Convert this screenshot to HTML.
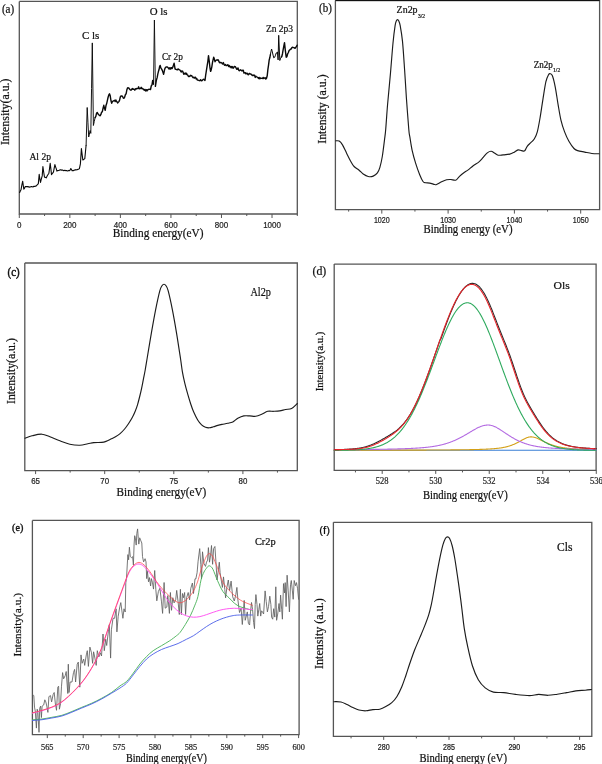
<!DOCTYPE html>
<html><head><meta charset="utf-8"><style>
html,body{margin:0;padding:0;background:#fff;}
body{width:602px;height:764px;overflow:hidden;}
svg{display:block;will-change:transform;filter:blur(0.35px);}
</style></head><body>
<svg width="602" height="764" viewBox="0 0 602 764">
<rect width="602" height="764" fill="#fff"/>
<path d="M19.3 1.4 L19.3 214.0 L297.3 214.0 L297.3 1.4 L19.3 1.4" fill="none" stroke="#555555" stroke-width="1.3"/>
<path d="M19.65 192.50 L20.32 190.99 L21.00 189.80 L21.85 185.19 L22.70 181.20 L23.80 189.20 L24.40 188.44 L25.00 187.02 L25.60 186.50 L26.27 186.65 L26.93 186.61 L27.60 186.45 L28.27 186.97 L28.93 186.67 L29.60 187.20 L30.28 187.05 L30.95 186.64 L31.62 186.57 L32.30 186.78 L32.98 187.06 L33.65 186.34 L34.33 186.34 L35.00 186.50 L35.66 186.09 L36.32 185.86 L36.98 185.01 L37.64 184.33 L38.30 183.90 L39.20 174.30 L39.85 178.83 L40.50 182.50 L41.35 178.79 L42.20 175.90 L42.90 166.60 L43.70 172.22 L44.50 177.20 L45.35 177.36 L46.20 177.90 L46.88 176.40 L47.55 175.21 L48.23 174.20 L48.90 173.20 L49.55 168.53 L50.20 163.30 L50.85 168.66 L51.50 174.60 L52.17 173.77 L52.83 172.93 L53.50 171.90 L54.20 168.14 L54.90 164.60 L55.57 166.84 L56.23 168.61 L56.90 171.20 L57.56 170.54 L58.22 170.42 L58.88 170.58 L59.54 170.09 L60.20 169.90 L60.86 169.82 L61.53 170.15 L62.19 170.12 L62.85 170.07 L63.51 170.60 L64.17 170.60 L64.84 170.28 L65.50 170.60 L66.17 170.67 L66.83 170.62 L67.50 170.94 L68.17 170.81 L68.83 170.41 L69.50 170.60 L70.15 170.03 L70.80 168.60 L71.45 169.36 L72.10 170.80 L72.77 170.58 L73.43 170.73 L74.10 170.04 L74.77 170.19 L75.43 169.64 L76.10 169.90 L76.76 169.79 L77.42 169.62 L78.08 169.19 L78.74 169.20 L79.40 168.60 L80.40 163.90 L81.40 148.60 L82.10 154.08 L82.80 159.90 L83.47 159.64 L84.13 159.12 L84.80 158.60 L85.45 152.02 L86.10 145.30" fill="none" stroke="#0a0a0a" stroke-width="1.1" stroke-linejoin="round" stroke-linecap="round"/>
<path d="M86.10 145.30 L87.20 107.50 L87.95 122.21 L88.70 137.00 L89.40 134.06 L90.10 130.50 L90.80 133.40 L91.55 88.55 L92.30 42.90 L93.40 125.50 L94.25 121.53 L95.10 117.60" fill="none" stroke="#0a0a0a" stroke-width="0.95" stroke-linejoin="round" stroke-linecap="round"/>
<path d="M95.10 117.60 L95.83 116.33 L96.57 113.06 L97.30 112.50 L98.03 113.99 L98.77 114.82 L99.50 115.40 L100.20 115.78 L100.90 114.44 L101.60 112.14 L102.30 111.80 L103.05 108.25 L103.80 105.30 L104.50 108.29 L105.20 110.40 L105.93 105.79 L106.67 103.57 L107.40 100.30 L108.10 97.27 L108.80 94.97 L109.50 93.80 L110.23 95.79 L110.97 100.76 L111.70 103.20 L112.42 101.51 L113.15 101.09 L113.88 100.74 L114.60 100.30 L115.20 101.62 L115.80 99.91 L116.40 101.22 L117.00 101.83 L117.60 103.05 L118.20 102.40 L118.90 101.63 L119.60 100.15 L120.30 97.02 L121.00 96.00 L121.72 96.06 L122.44 96.19 L123.16 97.84 L123.88 98.31 L124.60 97.40 L125.35 94.69 L126.10 93.80 L126.80 90.06 L127.50 88.00 L128.22 87.74 L128.94 88.19 L129.66 89.28 L130.38 89.99 L131.10 90.20 L131.71 89.38 L132.33 88.51 L132.94 89.39 L133.56 89.06 L134.17 89.37 L134.79 90.18 L135.40 88.80 L136.04 89.13 L136.69 88.51 L137.33 88.61 L137.98 88.59 L138.62 86.81 L139.27 88.84 L139.91 88.36 L140.56 88.44 L141.20 87.30 L141.92 88.80 L142.65 88.47 L143.38 89.21 L144.10 90.20 L144.82 89.37 L145.55 90.95 L146.28 89.66 L147.00 91.00 L147.70 89.58 L148.40 89.64 L149.10 89.22 L149.80 89.38 L150.50 89.50 L151.25 85.99 L152.00 84.80 L152.70 80.40 L153.50 84.10" fill="none" stroke="#0a0a0a" stroke-width="1.4" stroke-linejoin="round" stroke-linecap="round"/>
<path d="M153.50 84.10 L154.40 20.00 L155.40 86.30" fill="none" stroke="#0a0a0a" stroke-width="0.9" stroke-linejoin="round" stroke-linecap="round"/>
<path d="M155.40 86.30 L156.30 80.55 L157.20 77.40 L157.80 74.09 L158.40 71.56 L159.00 69.85 L159.60 66.57 L160.20 65.40 L160.93 68.11 L161.67 69.16 L162.40 70.60 L163.60 74.40 L164.70 69.10 L165.43 67.45 L166.17 66.99 L166.90 66.90 L167.63 67.24 L168.37 68.01 L169.10 69.10 L169.87 67.65 L170.63 69.07 L171.40 67.70 L172.15 68.58 L172.90 66.90 L174.10 63.20 L175.10 69.10 L175.87 69.28 L176.63 69.59 L177.40 69.90 L178.00 68.96 L178.60 69.15 L179.20 69.91 L179.80 69.85 L180.40 70.60 L181.12 72.03 L181.85 70.87 L182.58 71.09 L183.30 72.90 L183.94 74.39 L184.59 73.60 L185.23 72.92 L185.87 74.27 L186.51 73.24 L187.16 74.86 L187.80 75.10 L188.44 76.56 L189.09 76.47 L189.73 76.25 L190.37 75.34 L191.01 75.82 L191.66 75.52 L192.30 76.60 L192.94 77.59 L193.59 77.26 L194.23 78.18 L194.87 77.30 L195.51 77.31 L196.16 79.12 L196.80 78.60 L197.44 80.16 L198.09 80.12 L198.73 80.30 L199.37 80.63 L200.01 80.72 L200.66 79.69 L201.30 80.70 L201.92 80.70 L202.53 80.22 L203.15 79.33 L203.77 79.27 L204.38 79.88 L205.00 80.40 L205.75 74.52 L206.50 69.90 L207.17 65.67 L207.83 61.62 L208.50 55.70 L209.20 60.80 L209.90 67.30 L210.60 71.40 L211.23 69.67 L211.87 66.58 L212.50 62.40 L213.70 57.20 L214.35 59.10 L215.00 61.70 L215.68 60.60 L216.35 60.24 L217.02 59.79 L217.70 60.20 L218.30 59.87 L218.90 61.40 L219.50 62.56 L220.10 62.85 L220.70 62.40 L221.36 62.65 L222.01 63.40 L222.67 64.08 L223.33 62.52 L223.99 64.32 L224.64 65.27 L225.30 64.50 L225.96 65.48 L226.62 65.65 L227.29 65.19 L227.95 64.66 L228.61 66.50 L229.28 65.56 L229.94 67.03 L230.60 66.50 L231.20 67.87 L231.80 66.52 L232.40 66.68 L233.00 68.24 L233.60 67.81 L234.20 66.51 L234.80 66.54 L235.40 66.75 L236.00 67.80 L236.66 69.19 L237.32 69.27 L237.99 67.89 L238.65 70.00 L239.31 70.74 L239.98 70.23 L240.64 69.77 L241.30 70.50 L241.96 70.96 L242.62 70.22 L243.29 70.25 L243.95 73.07 L244.61 72.58 L245.28 72.59 L245.94 73.99 L246.60 73.20 L247.26 73.27 L247.93 74.64 L248.59 74.76 L249.25 73.40 L249.91 73.74 L250.57 74.09 L251.24 74.19 L251.90 75.10 L252.56 75.57 L253.22 74.97 L253.89 75.64 L254.55 75.14 L255.21 77.42 L255.88 76.22 L256.54 76.74 L257.20 77.10 L257.86 77.49 L258.52 78.50 L259.19 77.42 L259.85 78.89 L260.51 77.98 L261.18 78.23 L261.84 78.39 L262.50 78.50 L263.16 77.37 L263.82 78.58 L264.48 78.04 L265.14 77.69 L265.80 79.10 L266.50 78.23 L267.20 75.80 L267.87 69.65 L268.53 65.13 L269.20 59.90 L269.80 57.76 L270.40 54.60" fill="none" stroke="#0a0a0a" stroke-width="1.4" stroke-linejoin="round" stroke-linecap="round"/>
<path d="M270.40 54.60 L271.00 51.27 L271.60 49.00 L272.33 52.01 L273.07 55.08 L273.80 57.90 L274.65 57.29 L275.50 55.20 L276.13 53.08 L276.77 53.16 L277.40 51.90 L278.10 59.90 L278.70 35.30 L279.80 60.50 L280.47 58.51" fill="none" stroke="#0a0a0a" stroke-width="1.0" stroke-linejoin="round" stroke-linecap="round"/>
<path d="M281.13 57.25 L281.80 56.50 L282.48 53.73 L283.15 49.57 L283.82 46.24 L284.50 42.60 L285.35 50.58 L286.20 57.20 L286.93 56.62 L287.65 53.75 L288.38 52.54 L289.10 50.60 L289.76 49.93 L290.42 49.27 L291.08 49.06 L291.74 47.76 L292.40 47.20 L293.07 47.52 L293.73 47.61 L294.40 47.90 L295.07 48.37 L295.75 47.07 L296.43 46.85 L297.10 45.20" fill="none" stroke="#0a0a0a" stroke-width="1.4" stroke-linejoin="round" stroke-linecap="round"/>
<path d="M19.30 214.0 L19.30 218.0 M69.85 214.0 L69.85 218.0 M120.39 214.0 L120.39 218.0 M170.94 214.0 L170.94 218.0 M221.48 214.0 L221.48 218.0 M272.03 214.0 L272.03 218.0" stroke="#555555" stroke-width="1" fill="none"/>
<path d="M44.57 214.0 L44.57 216.0 M95.12 214.0 L95.12 216.0 M145.66 214.0 L145.66 216.0 M196.21 214.0 L196.21 216.0 M246.75 214.0 L246.75 216.0 M297.30 214.0 L297.30 216.0" stroke="#555555" stroke-width="1" fill="none"/>
<text x="19.30" y="227.7" font-family='"Liberation Sans", sans-serif' font-size="9.2" text-anchor="middle" font-weight="normal" fill="#222" stroke="#222" stroke-width="0.22" textLength="4.45" lengthAdjust="spacingAndGlyphs">0</text>
<text x="69.85" y="227.7" font-family='"Liberation Sans", sans-serif' font-size="9.2" text-anchor="middle" font-weight="normal" fill="#222" stroke="#222" stroke-width="0.22" textLength="13.35" lengthAdjust="spacingAndGlyphs">200</text>
<text x="120.39" y="227.7" font-family='"Liberation Sans", sans-serif' font-size="9.2" text-anchor="middle" font-weight="normal" fill="#222" stroke="#222" stroke-width="0.22" textLength="13.35" lengthAdjust="spacingAndGlyphs">400</text>
<text x="170.94" y="227.7" font-family='"Liberation Sans", sans-serif' font-size="9.2" text-anchor="middle" font-weight="normal" fill="#222" stroke="#222" stroke-width="0.22" textLength="13.35" lengthAdjust="spacingAndGlyphs">600</text>
<text x="221.48" y="227.7" font-family='"Liberation Sans", sans-serif' font-size="9.2" text-anchor="middle" font-weight="normal" fill="#222" stroke="#222" stroke-width="0.22" textLength="13.35" lengthAdjust="spacingAndGlyphs">800</text>
<text x="272.03" y="227.7" font-family='"Liberation Sans", sans-serif' font-size="9.2" text-anchor="middle" font-weight="normal" fill="#222" stroke="#222" stroke-width="0.22" textLength="17.8" lengthAdjust="spacingAndGlyphs">1000</text>
<text x="112.8" y="237.4" font-family='"Liberation Serif", serif' font-size="12.2" text-anchor="start" font-weight="normal" fill="#111" stroke="#111" stroke-width="0.22" textLength="90.7" lengthAdjust="spacingAndGlyphs">Binding energy(eV)</text>
<text transform="translate(8.6 111.8) rotate(-90)" x="0" y="0" font-family='"Liberation Serif", serif' font-size="11.9" text-anchor="middle" fill="#111" stroke="#111" stroke-width="0.22" textLength="66.6" lengthAdjust="spacingAndGlyphs">Intensity(a.u.)</text>
<text x="1.9" y="12.7" font-family='"Liberation Serif", serif' font-size="11.8" text-anchor="start" font-weight="normal" fill="#111" stroke="#111" stroke-width="0.22" textLength="12.3" lengthAdjust="spacingAndGlyphs">(a)</text>
<text x="81.9" y="38.6" font-family='"Liberation Serif", serif' font-size="10.7" text-anchor="start" font-weight="normal" fill="#111" stroke="#111" stroke-width="0.22" textLength="17.4" lengthAdjust="spacingAndGlyphs">C ls</text>
<text x="149.8" y="15.4" font-family='"Liberation Serif", serif' font-size="10.8" text-anchor="start" font-weight="normal" fill="#111" stroke="#111" stroke-width="0.22" textLength="17.8" lengthAdjust="spacingAndGlyphs">O ls</text>
<text x="161.9" y="59.6" font-family='"Liberation Serif", serif' font-size="10.9" text-anchor="start" font-weight="normal" fill="#111" stroke="#111" stroke-width="0.22" textLength="21" lengthAdjust="spacingAndGlyphs">Cr 2p</text>
<text x="265.9" y="31.7" font-family='"Liberation Serif", serif' font-size="10.2" text-anchor="start" font-weight="normal" fill="#111" stroke="#111" stroke-width="0.22" textLength="27.2" lengthAdjust="spacingAndGlyphs">Zn 2p3</text>
<text x="29.5" y="159.7" font-family='"Liberation Serif", serif' font-size="10.3" text-anchor="start" font-weight="normal" fill="#111" stroke="#111" stroke-width="0.22" textLength="21.4" lengthAdjust="spacingAndGlyphs">Al 2p</text>
<path d="M335.4 0.5 L335.4 209.6 L599.6 209.6 L599.6 0.5 L335.4 0.5" fill="none" stroke="#555555" stroke-width="1.3"/>
<path d="M335.4 0.5 L599.6 0.5" stroke="#111" stroke-width="1.0"/>
<path d="M335.80 140.80 C336.37 140.85 338.08 140.42 339.20 141.10 C340.32 141.78 341.27 142.88 342.50 144.90 C343.73 146.92 345.22 150.43 346.60 153.20 C347.98 155.97 349.55 159.28 350.80 161.50 C352.05 163.72 352.72 165.05 354.10 166.50 C355.48 167.95 357.58 168.95 359.10 170.20 C360.62 171.45 361.68 172.95 363.20 174.00 C364.72 175.05 366.53 176.15 368.20 176.50 C369.87 176.85 371.67 176.72 373.20 176.10 C374.73 175.48 376.28 174.27 377.40 172.80 C378.52 171.33 379.08 170.02 379.90 167.30 C380.72 164.58 381.53 161.07 382.30 156.50 C383.07 151.93 383.93 144.40 384.50 139.90 C385.07 135.40 385.18 135.43 385.70 129.50 C386.22 123.57 386.80 113.73 387.60 104.30 C388.40 94.87 389.60 83.12 390.50 72.90 C391.40 62.68 392.23 50.87 393.00 43.00 C393.77 35.13 394.55 29.37 395.10 25.70 C395.65 22.03 395.90 22.02 396.30 21.00 C396.70 19.98 397.08 19.60 397.50 19.60 C397.92 19.60 398.35 19.98 398.80 21.00 C399.25 22.02 399.58 22.30 400.20 25.70 C400.82 29.10 401.77 34.07 402.50 41.40 C403.23 48.73 403.95 60.27 404.60 69.70 C405.25 79.13 405.70 88.03 406.40 98.00 C407.10 107.97 408.23 123.07 408.80 129.50 C409.37 135.93 409.23 133.07 409.80 136.60 C410.37 140.13 411.23 146.27 412.20 150.70 C413.17 155.13 414.35 159.18 415.60 163.20 C416.85 167.22 418.47 171.75 419.70 174.80 C420.93 177.85 422.03 180.17 423.00 181.50 C423.97 182.83 424.38 182.53 425.50 182.80 C426.62 183.07 428.17 182.82 429.70 183.10 C431.23 183.38 433.55 184.27 434.70 184.50 C435.85 184.73 435.45 184.95 436.60 184.50 C437.75 184.05 439.93 182.58 441.60 181.80 C443.27 181.02 445.07 180.18 446.60 179.80 C448.13 179.42 449.28 179.43 450.80 179.50 C452.32 179.57 454.32 180.65 455.70 180.20 C457.08 179.75 457.85 177.97 459.10 176.80 C460.35 175.63 461.68 174.35 463.20 173.20 C464.72 172.05 466.53 171.15 468.20 169.90 C469.87 168.65 471.40 167.03 473.20 165.70 C475.00 164.37 477.33 163.28 479.00 161.90 C480.67 160.52 481.82 158.90 483.20 157.40 C484.58 155.90 485.98 153.92 487.30 152.90 C488.62 151.88 489.85 151.23 491.10 151.30 C492.35 151.37 493.63 152.65 494.80 153.30 C495.97 153.95 496.72 154.93 498.10 155.20 C499.48 155.47 501.17 155.08 503.10 154.90 C505.03 154.72 507.90 154.52 509.70 154.10 C511.50 153.68 512.52 153.10 513.90 152.40 C515.28 151.70 516.73 150.20 518.00 149.90 C519.27 149.60 520.38 150.45 521.50 150.60 C522.62 150.75 523.75 151.52 524.70 150.80 C525.65 150.08 526.18 147.65 527.20 146.30 C528.22 144.95 529.60 143.95 530.80 142.70 C532.00 141.45 533.32 140.60 534.40 138.80 C535.48 137.00 536.35 135.43 537.30 131.90 C538.25 128.37 539.15 123.12 540.10 117.60 C541.05 112.08 542.03 104.80 543.00 98.80 C543.97 92.80 544.98 85.60 545.90 81.60 C546.82 77.60 547.78 76.12 548.50 74.80 C549.22 73.48 549.55 73.53 550.20 73.70 C550.85 73.87 551.55 73.53 552.40 75.80 C553.25 78.07 554.35 82.50 555.30 87.30 C556.25 92.10 557.15 99.08 558.10 104.60 C559.05 110.12 559.92 115.85 561.00 120.40 C562.08 124.95 563.28 128.42 564.60 131.90 C565.92 135.38 567.33 138.53 568.90 141.30 C570.47 144.07 572.55 146.95 574.00 148.50 C575.45 150.05 575.82 150.00 577.60 150.60 C579.38 151.20 582.32 151.62 584.70 152.10 C587.08 152.58 589.50 153.22 591.90 153.50 C594.30 153.78 597.90 153.75 599.10 153.80" fill="none" stroke="#1c1c1c" stroke-width="1.15" stroke-linejoin="round" stroke-linecap="round"/>
<path d="M381.80 209.6 L381.80 213.6 M448.10 209.6 L448.10 213.6 M514.40 209.6 L514.40 213.6 M580.70 209.6 L580.70 213.6" stroke="#555555" stroke-width="1" fill="none"/>
<path d="M348.65 209.6 L348.65 211.6 M414.95 209.6 L414.95 211.6 M481.25 209.6 L481.25 211.6 M547.55 209.6 L547.55 211.6" stroke="#555555" stroke-width="1" fill="none"/>
<text x="381.80" y="223.1" font-family='"Liberation Sans", sans-serif' font-size="8.16" text-anchor="middle" font-weight="normal" fill="#222" stroke="#222" stroke-width="0.22" textLength="15.8" lengthAdjust="spacingAndGlyphs">1020</text>
<text x="448.10" y="223.1" font-family='"Liberation Sans", sans-serif' font-size="8.16" text-anchor="middle" font-weight="normal" fill="#222" stroke="#222" stroke-width="0.22" textLength="15.8" lengthAdjust="spacingAndGlyphs">1030</text>
<text x="514.40" y="223.1" font-family='"Liberation Sans", sans-serif' font-size="8.16" text-anchor="middle" font-weight="normal" fill="#222" stroke="#222" stroke-width="0.22" textLength="15.8" lengthAdjust="spacingAndGlyphs">1040</text>
<text x="580.70" y="223.1" font-family='"Liberation Sans", sans-serif' font-size="8.16" text-anchor="middle" font-weight="normal" fill="#222" stroke="#222" stroke-width="0.22" textLength="15.8" lengthAdjust="spacingAndGlyphs">1050</text>
<text x="423.5" y="232.8" font-family='"Liberation Serif", serif' font-size="11.7" text-anchor="start" font-weight="normal" fill="#111" stroke="#111" stroke-width="0.22" textLength="89" lengthAdjust="spacingAndGlyphs">Binding energy (eV)</text>
<text transform="translate(326.2 109.05) rotate(-90)" x="0" y="0" font-family='"Liberation Serif", serif' font-size="11.9" text-anchor="middle" fill="#111" stroke="#111" stroke-width="0.22" textLength="69.5" lengthAdjust="spacingAndGlyphs">Intensity (a.u.)</text>
<text x="319" y="12.0" font-family='"Liberation Serif", serif' font-size="11.8" text-anchor="start" font-weight="normal" fill="#111" stroke="#111" stroke-width="0.22" textLength="12.9" lengthAdjust="spacingAndGlyphs">(b)</text>
<text x="396.6" y="12.7" font-family='"Liberation Serif", serif' font-size="9.8" text-anchor="start" font-weight="normal" fill="#111" stroke="#111" stroke-width="0.22" textLength="21" lengthAdjust="spacingAndGlyphs">Zn2p</text>
<text x="417.9" y="18.0" font-family='"Liberation Serif", serif' font-size="6" text-anchor="start" font-weight="normal" fill="#111" stroke="#111" stroke-width="0.22" textLength="7" lengthAdjust="spacingAndGlyphs">3/2</text>
<text x="533.8" y="68.4" font-family='"Liberation Serif", serif' font-size="9.3" text-anchor="start" font-weight="normal" fill="#111" stroke="#111" stroke-width="0.22" textLength="19.1" lengthAdjust="spacingAndGlyphs">Zn2p</text>
<text x="553.1" y="72.0" font-family='"Liberation Serif", serif' font-size="6" text-anchor="start" font-weight="normal" fill="#111" stroke="#111" stroke-width="0.22" textLength="7.1" lengthAdjust="spacingAndGlyphs">1/2</text>
<path d="M24.8 263.0 L24.8 470.6 L297.3 470.6 L297.3 263.0 L24.8 263.0" fill="none" stroke="#555555" stroke-width="1.3"/>
<path d="M25.00 438.20 C26.17 437.80 29.18 436.47 32.00 435.80 C34.82 435.13 38.92 434.03 41.90 434.20 C44.88 434.37 46.90 435.70 49.90 436.80 C52.90 437.90 56.58 439.57 59.90 440.80 C63.22 442.03 66.48 443.47 69.80 444.20 C73.12 444.93 76.80 445.27 79.80 445.20 C82.80 445.13 85.47 444.23 87.80 443.80 C90.13 443.37 91.48 442.83 93.80 442.60 C96.12 442.37 99.67 442.60 101.70 442.40 C103.73 442.20 104.47 441.95 106.00 441.40 C107.53 440.85 109.32 439.87 110.90 439.10 C112.48 438.33 113.97 437.72 115.50 436.80 C117.03 435.88 118.58 434.90 120.10 433.60 C121.62 432.30 123.23 430.60 124.60 429.00 C125.97 427.40 127.07 425.82 128.30 424.00 C129.53 422.18 130.85 420.23 132.00 418.10 C133.15 415.97 134.28 413.42 135.20 411.20 C136.12 408.98 136.75 407.25 137.50 404.80 C138.25 402.35 139.02 399.25 139.70 396.50 C140.38 393.75 140.98 391.18 141.60 388.30 C142.22 385.42 142.80 382.25 143.40 379.20 C144.00 376.15 144.57 373.53 145.20 370.00 C145.83 366.47 146.17 364.20 147.20 358.00 C148.23 351.80 150.00 340.83 151.40 332.80 C152.80 324.77 154.20 316.78 155.60 309.80 C157.00 302.82 158.73 294.92 159.80 290.90 C160.87 286.88 161.30 286.82 162.00 285.70 C162.70 284.58 163.33 284.20 164.00 284.20 C164.67 284.20 165.30 284.58 166.00 285.70 C166.70 286.82 167.13 286.88 168.20 290.90 C169.27 294.92 171.02 302.82 172.40 309.80 C173.78 316.78 175.15 324.68 176.50 332.80 C177.85 340.92 179.52 352.00 180.50 358.50 C181.48 365.00 181.67 367.62 182.40 371.80 C183.13 375.98 184.00 379.83 184.90 383.60 C185.80 387.37 186.82 390.97 187.80 394.40 C188.78 397.83 189.82 401.25 190.80 404.20 C191.78 407.15 192.55 409.47 193.70 412.10 C194.85 414.73 196.38 417.87 197.70 420.00 C199.02 422.13 200.30 423.68 201.60 424.90 C202.90 426.12 204.20 426.82 205.50 427.30 C206.80 427.78 208.08 427.88 209.40 427.80 C210.72 427.72 212.00 427.20 213.40 426.80 C214.80 426.40 216.37 425.80 217.80 425.40 C219.23 425.00 220.33 424.75 222.00 424.40 C223.67 424.05 226.00 423.72 227.80 423.30 C229.60 422.88 231.13 422.73 232.80 421.90 C234.47 421.07 235.97 419.30 237.80 418.30 C239.63 417.30 241.80 416.30 243.80 415.90 C245.80 415.50 247.82 415.83 249.80 415.90 C251.78 415.97 253.72 416.57 255.70 416.30 C257.68 416.03 259.70 415.13 261.70 414.30 C263.70 413.47 265.70 411.80 267.70 411.30 C269.70 410.80 271.70 411.37 273.70 411.30 C275.70 411.23 277.72 411.20 279.70 410.90 C281.68 410.60 283.62 409.90 285.60 409.50 C287.58 409.10 289.65 409.50 291.60 408.50 C293.55 407.50 296.35 404.33 297.30 403.50" fill="none" stroke="#1c1c1c" stroke-width="1.15" stroke-linejoin="round" stroke-linecap="round"/>
<path d="M35.60 470.6 L35.60 474.1 M104.70 470.6 L104.70 474.1 M173.80 470.6 L173.80 474.1 M242.90 470.6 L242.90 474.1" stroke="#555555" stroke-width="1" fill="none"/>
<path d="M70.15 470.6 L70.15 472.6 M139.25 470.6 L139.25 472.6 M208.35 470.6 L208.35 472.6 M277.45 470.6 L277.45 472.6" stroke="#555555" stroke-width="1" fill="none"/>
<text x="35.60" y="484.3" font-family='"Liberation Sans", sans-serif' font-size="9.08" text-anchor="middle" font-weight="normal" fill="#222" stroke="#222" stroke-width="0.22" textLength="8.79" lengthAdjust="spacingAndGlyphs">65</text>
<text x="104.70" y="484.3" font-family='"Liberation Sans", sans-serif' font-size="9.08" text-anchor="middle" font-weight="normal" fill="#222" stroke="#222" stroke-width="0.22" textLength="8.79" lengthAdjust="spacingAndGlyphs">70</text>
<text x="173.80" y="484.3" font-family='"Liberation Sans", sans-serif' font-size="9.08" text-anchor="middle" font-weight="normal" fill="#222" stroke="#222" stroke-width="0.22" textLength="8.79" lengthAdjust="spacingAndGlyphs">75</text>
<text x="242.90" y="484.3" font-family='"Liberation Sans", sans-serif' font-size="9.08" text-anchor="middle" font-weight="normal" fill="#222" stroke="#222" stroke-width="0.22" textLength="8.79" lengthAdjust="spacingAndGlyphs">80</text>
<text x="116.6" y="496.4" font-family='"Liberation Serif", serif' font-size="12.1" text-anchor="start" font-weight="normal" fill="#111" stroke="#111" stroke-width="0.22" textLength="89.7" lengthAdjust="spacingAndGlyphs">Binding energy(eV)</text>
<text transform="translate(15.0 371.1) rotate(-90)" x="0" y="0" font-family='"Liberation Serif", serif' font-size="11.6" text-anchor="middle" fill="#111" stroke="#111" stroke-width="0.22" textLength="65.8" lengthAdjust="spacingAndGlyphs">Intensity(a.u.)</text>
<text x="7.6" y="275.9" font-family='"Liberation Serif", serif' font-size="11.8" text-anchor="start" font-weight="normal" fill="#111" stroke="#111" stroke-width="0.45" textLength="12.1" lengthAdjust="spacingAndGlyphs">(c)</text>
<text x="250.4" y="295.6" font-family='"Liberation Serif", serif' font-size="12.2" text-anchor="start" font-weight="normal" fill="#111" stroke="#111" stroke-width="0.22" textLength="20.5" lengthAdjust="spacingAndGlyphs">Al2p</text>
<path d="M334.2 264.1 L334.2 470.4 L596.1 470.4 L596.1 264.1 L334.2 264.1" fill="none" stroke="#555555" stroke-width="1.3"/>
<path d="M334.2 450.3 L596.1 450.3" fill="none" stroke="#3a7fd5" stroke-width="1.1" stroke-linejoin="round" stroke-linecap="round"/>
<path d="M334.20 450.24 L334.70 450.24 L335.20 450.23 L335.70 450.23 L336.20 450.23 L336.70 450.23 L337.20 450.23 L337.70 450.23 L338.20 450.23 L338.70 450.23 L339.20 450.23 L339.70 450.23 L340.20 450.23 L340.70 450.23 L341.20 450.23 L341.70 450.23 L342.20 450.23 L342.70 450.23 L343.20 450.23 L343.70 450.23 L344.20 450.23 L344.70 450.23 L345.20 450.23 L345.70 450.23 L346.20 450.23 L346.70 450.23 L347.20 450.23 L347.70 450.23 L348.20 450.23 L348.70 450.22 L349.20 450.22 L349.70 450.22 L350.20 450.22 L350.70 450.22 L351.20 450.22 L351.70 450.22 L352.20 450.22 L352.70 450.22 L353.20 450.22 L353.70 450.22 L354.20 450.22 L354.70 450.22 L355.20 450.22 L355.70 450.22 L356.20 450.22 L356.70 450.22 L357.20 450.22 L357.70 450.22 L358.20 450.22 L358.70 450.22 L359.20 450.22 L359.70 450.21 L360.20 450.21 L360.70 450.21 L361.20 450.21 L361.70 450.21 L362.20 450.21 L362.70 450.21 L363.20 450.21 L363.70 450.21 L364.20 450.21 L364.70 450.21 L365.20 450.21 L365.70 450.21 L366.20 450.21 L366.70 450.21 L367.20 450.21 L367.70 450.21 L368.20 450.21 L368.70 450.21 L369.20 450.20 L369.70 450.20 L370.20 450.20 L370.70 450.20 L371.20 450.20 L371.70 450.20 L372.20 450.20 L372.70 450.20 L373.20 450.20 L373.70 450.20 L374.20 450.20 L374.70 450.20 L375.20 450.20 L375.70 450.20 L376.20 450.20 L376.70 450.20 L377.20 450.19 L377.70 450.19 L378.20 450.19 L378.70 450.19 L379.20 450.19 L379.70 450.19 L380.20 450.19 L380.70 450.19 L381.20 450.19 L381.70 450.19 L382.20 450.19 L382.70 450.19 L383.20 450.19 L383.70 450.19 L384.20 450.18 L384.70 450.18 L385.20 450.18 L385.70 450.18 L386.20 450.18 L386.70 450.18 L387.20 450.18 L387.70 450.18 L388.20 450.18 L388.70 450.18 L389.20 450.18 L389.70 450.18 L390.20 450.17 L390.70 450.17 L391.20 450.17 L391.70 450.17 L392.20 450.17 L392.70 450.17 L393.20 450.17 L393.70 450.17 L394.20 450.17 L394.70 450.17 L395.20 450.17 L395.70 450.16 L396.20 450.16 L396.70 450.16 L397.20 450.16 L397.70 450.16 L398.20 450.16 L398.70 450.16 L399.20 450.16 L399.70 450.16 L400.20 450.15 L400.70 450.15 L401.20 450.15 L401.70 450.15 L402.20 450.15 L402.70 450.15 L403.20 450.15 L403.70 450.15 L404.20 450.15 L404.70 450.14 L405.20 450.14 L405.70 450.14 L406.20 450.14 L406.70 450.14 L407.20 450.14 L407.70 450.14 L408.20 450.14 L408.70 450.13 L409.20 450.13 L409.70 450.13 L410.20 450.13 L410.70 450.13 L411.20 450.13 L411.70 450.13 L412.20 450.12 L412.70 450.12 L413.20 450.12 L413.70 450.12 L414.20 450.12 L414.70 450.12 L415.20 450.12 L415.70 450.11 L416.20 450.11 L416.70 450.11 L417.20 450.11 L417.70 450.11 L418.20 450.11 L418.70 450.10 L419.20 450.10 L419.70 450.10 L420.20 450.10 L420.70 450.10 L421.20 450.10 L421.70 450.09 L422.20 450.09 L422.70 450.09 L423.20 450.09 L423.70 450.09 L424.20 450.08 L424.70 450.08 L425.20 450.08 L425.70 450.08 L426.20 450.08 L426.70 450.07 L427.20 450.07 L427.70 450.07 L428.20 450.07 L428.70 450.06 L429.20 450.06 L429.70 450.06 L430.20 450.06 L430.70 450.06 L431.20 450.05 L431.70 450.05 L432.20 450.05 L432.70 450.05 L433.20 450.04 L433.70 450.04 L434.20 450.04 L434.70 450.04 L435.20 450.03 L435.70 450.03 L436.20 450.03 L436.70 450.02 L437.20 450.02 L437.70 450.02 L438.20 450.02 L438.70 450.01 L439.20 450.01 L439.70 450.01 L440.20 450.00 L440.70 450.00 L441.20 450.00 L441.70 449.99 L442.20 449.99 L442.70 449.99 L443.20 449.98 L443.70 449.98 L444.20 449.98 L444.70 449.97 L445.20 449.97 L445.70 449.96 L446.20 449.96 L446.70 449.96 L447.20 449.95 L447.70 449.95 L448.20 449.94 L448.70 449.94 L449.20 449.94 L449.70 449.93 L450.20 449.93 L450.70 449.92 L451.20 449.92 L451.70 449.91 L452.20 449.91 L452.70 449.90 L453.20 449.90 L453.70 449.89 L454.20 449.89 L454.70 449.88 L455.20 449.88 L455.70 449.87 L456.20 449.87 L456.70 449.86 L457.20 449.86 L457.70 449.85 L458.20 449.85 L458.70 449.84 L459.20 449.83 L459.70 449.83 L460.20 449.82 L460.70 449.81 L461.20 449.81 L461.70 449.80 L462.20 449.79 L462.70 449.79 L463.20 449.78 L463.70 449.77 L464.20 449.76 L464.70 449.76 L465.20 449.75 L465.70 449.74 L466.20 449.73 L466.70 449.72 L467.20 449.72 L467.70 449.71 L468.20 449.70 L468.70 449.69 L469.20 449.68 L469.70 449.67 L470.20 449.66 L470.70 449.65 L471.20 449.64 L471.70 449.63 L472.20 449.62 L472.70 449.61 L473.20 449.60 L473.70 449.58 L474.20 449.57 L474.70 449.56 L475.20 449.55 L475.70 449.54 L476.20 449.52 L476.70 449.51 L477.20 449.50 L477.70 449.48 L478.20 449.47 L478.70 449.45 L479.20 449.44 L479.70 449.42 L480.20 449.41 L480.70 449.39 L481.20 449.37 L481.70 449.35 L482.20 449.34 L482.70 449.32 L483.20 449.30 L483.70 449.28 L484.20 449.26 L484.70 449.24 L485.20 449.22 L485.70 449.19 L486.20 449.17 L486.70 449.15 L487.20 449.12 L487.70 449.10 L488.20 449.07 L488.70 449.04 L489.20 449.01 L489.70 448.98 L490.20 448.95 L490.70 448.92 L491.20 448.89 L491.70 448.85 L492.20 448.82 L492.70 448.78 L493.20 448.74 L493.70 448.70 L494.20 448.66 L494.70 448.62 L495.20 448.57 L495.70 448.52 L496.20 448.48 L496.70 448.42 L497.20 448.37 L497.70 448.31 L498.20 448.25 L498.70 448.19 L499.20 448.13 L499.70 448.06 L500.20 447.99 L500.70 447.92 L501.20 447.84 L501.70 447.76 L502.20 447.68 L502.70 447.59 L503.20 447.50 L503.70 447.40 L504.20 447.30 L504.70 447.20 L505.20 447.09 L505.70 446.98 L506.20 446.86 L506.70 446.73 L507.20 446.60 L507.70 446.47 L508.20 446.33 L508.70 446.19 L509.20 446.03 L509.70 445.88 L510.20 445.71 L510.70 445.54 L511.20 445.37 L511.70 445.19 L512.20 445.00 L512.70 444.80 L513.20 444.60 L513.70 444.39 L514.20 444.18 L514.70 443.96 L515.20 443.73 L515.70 443.50 L516.20 443.26 L516.70 443.01 L517.20 442.76 L517.70 442.50 L518.20 442.24 L518.70 441.97 L519.20 441.70 L519.70 441.43 L520.20 441.15 L520.70 440.87 L521.20 440.59 L521.70 440.31 L522.20 440.03 L522.70 439.75 L523.20 439.48 L523.70 439.21 L524.20 438.94 L524.70 438.69 L525.20 438.45 L525.70 438.21 L526.20 437.99 L526.70 437.79 L527.20 437.60 L527.70 437.43 L528.20 437.28 L528.70 437.15 L529.20 437.05 L529.70 436.97 L530.20 436.91 L530.70 436.89 L531.20 436.88 L531.70 436.90 L532.20 436.94 L532.70 437.00 L533.20 437.07 L533.70 437.17 L534.20 437.29 L534.70 437.42 L535.20 437.57 L535.70 437.73 L536.20 437.91 L536.70 438.10 L537.20 438.30 L537.70 438.52 L538.20 438.74 L538.70 438.97 L539.20 439.20 L539.70 439.44 L540.20 439.69 L540.70 439.93 L541.20 440.18 L541.70 440.43 L542.20 440.68 L542.70 440.93 L543.20 441.18 L543.70 441.43 L544.20 441.68 L544.70 441.92 L545.20 442.16 L545.70 442.40 L546.20 442.63 L546.70 442.86 L547.20 443.08 L547.70 443.30 L548.20 443.51 L548.70 443.72 L549.20 443.92 L549.70 444.12 L550.20 444.32 L550.70 444.50 L551.20 444.69 L551.70 444.87 L552.20 445.04 L552.70 445.21 L553.20 445.37 L553.70 445.53 L554.20 445.68 L554.70 445.83 L555.20 445.97 L555.70 446.11 L556.20 446.24 L556.70 446.37 L557.20 446.49 L557.70 446.61 L558.20 446.72 L558.70 446.84 L559.20 446.94 L559.70 447.05 L560.20 447.14 L560.70 447.24 L561.20 447.33 L561.70 447.42 L562.20 447.51 L562.70 447.59 L563.20 447.67 L563.70 447.74 L564.20 447.81 L564.70 447.88 L565.20 447.95 L565.70 448.02 L566.20 448.08 L566.70 448.14 L567.20 448.19 L567.70 448.25 L568.20 448.30 L568.70 448.35 L569.20 448.40 L569.70 448.45 L570.20 448.49 L570.70 448.54 L571.20 448.58 L571.70 448.62 L572.20 448.66 L572.70 448.70 L573.20 448.73 L573.70 448.77 L574.20 448.80 L574.70 448.83 L575.20 448.87 L575.70 448.90 L576.20 448.93 L576.70 448.95 L577.20 448.98 L577.70 449.01 L578.20 449.03 L578.70 449.06 L579.20 449.08 L579.70 449.11 L580.20 449.13 L580.70 449.15 L581.20 449.17 L581.70 449.19 L582.20 449.21 L582.70 449.23 L583.20 449.25 L583.70 449.27 L584.20 449.29 L584.70 449.30 L585.20 449.32 L585.70 449.34 L586.20 449.35 L586.70 449.37 L587.20 449.38 L587.70 449.40 L588.20 449.41 L588.70 449.43 L589.20 449.44 L589.70 449.46 L590.20 449.47 L590.70 449.48 L591.20 449.49 L591.70 449.51 L592.20 449.52 L592.70 449.53 L593.20 449.54 L593.70 449.55 L594.20 449.56 L594.70 449.58 L595.20 449.59 L595.70 449.60" fill="none" stroke="#d4a017" stroke-width="1.1" stroke-linejoin="round" stroke-linecap="round"/>
<path d="M334.20 449.80 L334.70 449.79 L335.20 449.79 L335.70 449.79 L336.20 449.79 L336.70 449.78 L337.20 449.78 L337.70 449.78 L338.20 449.77 L338.70 449.77 L339.20 449.76 L339.70 449.76 L340.20 449.76 L340.70 449.75 L341.20 449.75 L341.70 449.75 L342.20 449.74 L342.70 449.74 L343.20 449.74 L343.70 449.73 L344.20 449.73 L344.70 449.72 L345.20 449.72 L345.70 449.72 L346.20 449.71 L346.70 449.71 L347.20 449.70 L347.70 449.70 L348.20 449.70 L348.70 449.69 L349.20 449.69 L349.70 449.68 L350.20 449.68 L350.70 449.67 L351.20 449.67 L351.70 449.67 L352.20 449.66 L352.70 449.66 L353.20 449.65 L353.70 449.65 L354.20 449.64 L354.70 449.64 L355.20 449.63 L355.70 449.63 L356.20 449.62 L356.70 449.62 L357.20 449.61 L357.70 449.61 L358.20 449.60 L358.70 449.60 L359.20 449.59 L359.70 449.59 L360.20 449.58 L360.70 449.58 L361.20 449.57 L361.70 449.57 L362.20 449.56 L362.70 449.56 L363.20 449.55 L363.70 449.54 L364.20 449.54 L364.70 449.53 L365.20 449.53 L365.70 449.52 L366.20 449.51 L366.70 449.51 L367.20 449.50 L367.70 449.50 L368.20 449.49 L368.70 449.48 L369.20 449.48 L369.70 449.47 L370.20 449.46 L370.70 449.46 L371.20 449.45 L371.70 449.44 L372.20 449.43 L372.70 449.43 L373.20 449.42 L373.70 449.41 L374.20 449.41 L374.70 449.40 L375.20 449.39 L375.70 449.38 L376.20 449.38 L376.70 449.37 L377.20 449.36 L377.70 449.35 L378.20 449.34 L378.70 449.33 L379.20 449.33 L379.70 449.32 L380.20 449.31 L380.70 449.30 L381.20 449.29 L381.70 449.28 L382.20 449.27 L382.70 449.26 L383.20 449.26 L383.70 449.25 L384.20 449.24 L384.70 449.23 L385.20 449.22 L385.70 449.21 L386.20 449.20 L386.70 449.19 L387.20 449.18 L387.70 449.17 L388.20 449.16 L388.70 449.14 L389.20 449.13 L389.70 449.12 L390.20 449.11 L390.70 449.10 L391.20 449.09 L391.70 449.08 L392.20 449.06 L392.70 449.05 L393.20 449.04 L393.70 449.03 L394.20 449.01 L394.70 449.00 L395.20 448.99 L395.70 448.97 L396.20 448.96 L396.70 448.95 L397.20 448.93 L397.70 448.92 L398.20 448.90 L398.70 448.89 L399.20 448.87 L399.70 448.86 L400.20 448.84 L400.70 448.83 L401.20 448.81 L401.70 448.80 L402.20 448.78 L402.70 448.76 L403.20 448.74 L403.70 448.73 L404.20 448.71 L404.70 448.69 L405.20 448.67 L405.70 448.65 L406.20 448.63 L406.70 448.61 L407.20 448.59 L407.70 448.57 L408.20 448.55 L408.70 448.53 L409.20 448.51 L409.70 448.49 L410.20 448.46 L410.70 448.44 L411.20 448.42 L411.70 448.39 L412.20 448.37 L412.70 448.34 L413.20 448.32 L413.70 448.29 L414.20 448.26 L414.70 448.23 L415.20 448.20 L415.70 448.17 L416.20 448.14 L416.70 448.11 L417.20 448.08 L417.70 448.05 L418.20 448.02 L418.70 447.98 L419.20 447.95 L419.70 447.91 L420.20 447.87 L420.70 447.84 L421.20 447.80 L421.70 447.76 L422.20 447.72 L422.70 447.67 L423.20 447.63 L423.70 447.59 L424.20 447.54 L424.70 447.49 L425.20 447.44 L425.70 447.39 L426.20 447.34 L426.70 447.29 L427.20 447.24 L427.70 447.18 L428.20 447.12 L428.70 447.06 L429.20 447.00 L429.70 446.94 L430.20 446.88 L430.70 446.81 L431.20 446.74 L431.70 446.67 L432.20 446.60 L432.70 446.53 L433.20 446.45 L433.70 446.38 L434.20 446.30 L434.70 446.21 L435.20 446.13 L435.70 446.04 L436.20 445.95 L436.70 445.86 L437.20 445.76 L437.70 445.67 L438.20 445.57 L438.70 445.46 L439.20 445.36 L439.70 445.25 L440.20 445.14 L440.70 445.03 L441.20 444.91 L441.70 444.79 L442.20 444.66 L442.70 444.54 L443.20 444.41 L443.70 444.28 L444.20 444.14 L444.70 444.00 L445.20 443.86 L445.70 443.71 L446.20 443.56 L446.70 443.40 L447.20 443.25 L447.70 443.09 L448.20 442.92 L448.70 442.75 L449.20 442.58 L449.70 442.40 L450.20 442.22 L450.70 442.04 L451.20 441.85 L451.70 441.66 L452.20 441.46 L452.70 441.26 L453.20 441.06 L453.70 440.85 L454.20 440.64 L454.70 440.42 L455.20 440.20 L455.70 439.98 L456.20 439.75 L456.70 439.52 L457.20 439.28 L457.70 439.04 L458.20 438.80 L458.70 438.55 L459.20 438.30 L459.70 438.05 L460.20 437.79 L460.70 437.53 L461.20 437.26 L461.70 437.00 L462.20 436.73 L462.70 436.45 L463.20 436.17 L463.70 435.89 L464.20 435.61 L464.70 435.32 L465.20 435.04 L465.70 434.75 L466.20 434.45 L466.70 434.16 L467.20 433.86 L467.70 433.57 L468.20 433.27 L468.70 432.97 L469.20 432.67 L469.70 432.37 L470.20 432.07 L470.70 431.77 L471.20 431.47 L471.70 431.17 L472.20 430.88 L472.70 430.58 L473.20 430.29 L473.70 430.00 L474.20 429.72 L474.70 429.44 L475.20 429.16 L475.70 428.88 L476.20 428.62 L476.70 428.35 L477.20 428.10 L477.70 427.85 L478.20 427.60 L478.70 427.37 L479.20 427.14 L479.70 426.93 L480.20 426.72 L480.70 426.52 L481.20 426.33 L481.70 426.16 L482.20 425.99 L482.70 425.84 L483.20 425.70 L483.70 425.57 L484.20 425.45 L484.70 425.35 L485.20 425.26 L485.70 425.19 L486.20 425.13 L486.70 425.09 L487.20 425.06 L487.70 425.04 L488.20 425.04 L488.70 425.06 L489.20 425.10 L489.70 425.15 L490.20 425.23 L490.70 425.32 L491.20 425.43 L491.70 425.55 L492.20 425.69 L492.70 425.85 L493.20 426.03 L493.70 426.21 L494.20 426.42 L494.70 426.63 L495.20 426.86 L495.70 427.10 L496.20 427.36 L496.70 427.62 L497.20 427.89 L497.70 428.17 L498.20 428.46 L498.70 428.76 L499.20 429.06 L499.70 429.38 L500.20 429.69 L500.70 430.01 L501.20 430.34 L501.70 430.66 L502.20 430.99 L502.70 431.33 L503.20 431.66 L503.70 431.99 L504.20 432.33 L504.70 432.67 L505.20 433.00 L505.70 433.34 L506.20 433.67 L506.70 434.00 L507.20 434.33 L507.70 434.66 L508.20 434.99 L508.70 435.31 L509.20 435.63 L509.70 435.95 L510.20 436.26 L510.70 436.57 L511.20 436.87 L511.70 437.18 L512.20 437.47 L512.70 437.77 L513.20 438.06 L513.70 438.34 L514.20 438.62 L514.70 438.90 L515.20 439.17 L515.70 439.43 L516.20 439.69 L516.70 439.95 L517.20 440.20 L517.70 440.45 L518.20 440.69 L518.70 440.92 L519.20 441.15 L519.70 441.38 L520.20 441.60 L520.70 441.82 L521.20 442.03 L521.70 442.24 L522.20 442.44 L522.70 442.63 L523.20 442.83 L523.70 443.01 L524.20 443.19 L524.70 443.37 L525.20 443.55 L525.70 443.71 L526.20 443.88 L526.70 444.04 L527.20 444.19 L527.70 444.34 L528.20 444.49 L528.70 444.63 L529.20 444.77 L529.70 444.91 L530.20 445.04 L530.70 445.17 L531.20 445.29 L531.70 445.41 L532.20 445.53 L532.70 445.64 L533.20 445.75 L533.70 445.86 L534.20 445.96 L534.70 446.06 L535.20 446.16 L535.70 446.25 L536.20 446.34 L536.70 446.43 L537.20 446.51 L537.70 446.60 L538.20 446.68 L538.70 446.76 L539.20 446.83 L539.70 446.90 L540.20 446.97 L540.70 447.04 L541.20 447.11 L541.70 447.17 L542.20 447.24 L542.70 447.30 L543.20 447.36 L543.70 447.41 L544.20 447.47 L544.70 447.52 L545.20 447.57 L545.70 447.62 L546.20 447.67 L546.70 447.72 L547.20 447.76 L547.70 447.81 L548.20 447.85 L548.70 447.89 L549.20 447.94 L549.70 447.98 L550.20 448.01 L550.70 448.05 L551.20 448.09 L551.70 448.12 L552.20 448.16 L552.70 448.19 L553.20 448.22 L553.70 448.25 L554.20 448.29 L554.70 448.32 L555.20 448.34 L555.70 448.37 L556.20 448.40 L556.70 448.43 L557.20 448.45 L557.70 448.48 L558.20 448.51 L558.70 448.53 L559.20 448.55 L559.70 448.58 L560.20 448.60 L560.70 448.62 L561.20 448.65 L561.70 448.67 L562.20 448.69 L562.70 448.71 L563.20 448.73 L563.70 448.75 L564.20 448.77 L564.70 448.79 L565.20 448.80 L565.70 448.82 L566.20 448.84 L566.70 448.86 L567.20 448.88 L567.70 448.89 L568.20 448.91 L568.70 448.92 L569.20 448.94 L569.70 448.96 L570.20 448.97 L570.70 448.99 L571.20 449.00 L571.70 449.02 L572.20 449.03 L572.70 449.04 L573.20 449.06 L573.70 449.07 L574.20 449.08 L574.70 449.10 L575.20 449.11 L575.70 449.12 L576.20 449.14 L576.70 449.15 L577.20 449.16 L577.70 449.17 L578.20 449.18 L578.70 449.19 L579.20 449.21 L579.70 449.22 L580.20 449.23 L580.70 449.24 L581.20 449.25 L581.70 449.26 L582.20 449.27 L582.70 449.28 L583.20 449.29 L583.70 449.30 L584.20 449.31 L584.70 449.32 L585.20 449.33 L585.70 449.34 L586.20 449.35 L586.70 449.36 L587.20 449.37 L587.70 449.37 L588.20 449.38 L588.70 449.39 L589.20 449.40 L589.70 449.41 L590.20 449.42 L590.70 449.43 L591.20 449.43 L591.70 449.44 L592.20 449.45 L592.70 449.46 L593.20 449.46 L593.70 449.47 L594.20 449.48 L594.70 449.49 L595.20 449.49 L595.70 449.50" fill="none" stroke="#b36ae2" stroke-width="1.1" stroke-linejoin="round" stroke-linecap="round"/>
<path d="M334.20 450.26 L334.70 450.25 L335.20 450.25 L335.70 450.25 L336.20 450.24 L336.70 450.24 L337.20 450.24 L337.70 450.23 L338.20 450.23 L338.70 450.22 L339.20 450.22 L339.70 450.21 L340.20 450.21 L340.70 450.20 L341.20 450.20 L341.70 450.19 L342.20 450.19 L342.70 450.18 L343.20 450.17 L343.70 450.16 L344.20 450.16 L344.70 450.15 L345.20 450.14 L345.70 450.13 L346.20 450.12 L346.70 450.11 L347.20 450.10 L347.70 450.09 L348.20 450.08 L348.70 450.06 L349.20 450.05 L349.70 450.04 L350.20 450.02 L350.70 450.01 L351.20 449.99 L351.70 449.97 L352.20 449.96 L352.70 449.94 L353.20 449.92 L353.70 449.90 L354.20 449.88 L354.70 449.85 L355.20 449.83 L355.70 449.80 L356.20 449.78 L356.70 449.75 L357.20 449.72 L357.70 449.69 L358.20 449.66 L358.70 449.63 L359.20 449.60 L359.70 449.56 L360.20 449.52 L360.70 449.48 L361.20 449.44 L361.70 449.40 L362.20 449.36 L362.70 449.31 L363.20 449.26 L363.70 449.21 L364.20 449.16 L364.70 449.10 L365.20 449.05 L365.70 448.99 L366.20 448.92 L366.70 448.86 L367.20 448.79 L367.70 448.72 L368.20 448.65 L368.70 448.57 L369.20 448.49 L369.70 448.41 L370.20 448.32 L370.70 448.23 L371.20 448.14 L371.70 448.04 L372.20 447.94 L372.70 447.84 L373.20 447.73 L373.70 447.62 L374.20 447.50 L374.70 447.38 L375.20 447.25 L375.70 447.12 L376.20 446.98 L376.70 446.84 L377.20 446.70 L377.70 446.55 L378.20 446.39 L378.70 446.23 L379.20 446.06 L379.70 445.89 L380.20 445.71 L380.70 445.52 L381.20 445.33 L381.70 445.13 L382.20 444.92 L382.70 444.71 L383.20 444.49 L383.70 444.26 L384.20 444.03 L384.70 443.79 L385.20 443.54 L385.70 443.28 L386.20 443.01 L386.70 442.74 L387.20 442.45 L387.70 442.16 L388.20 441.86 L388.70 441.55 L389.20 441.23 L389.70 440.90 L390.20 440.56 L390.70 440.22 L391.20 439.86 L391.70 439.49 L392.20 439.11 L392.70 438.72 L393.20 438.32 L393.70 437.91 L394.20 437.48 L394.70 437.05 L395.20 436.60 L395.70 436.15 L396.20 435.68 L396.70 435.19 L397.20 434.70 L397.70 434.19 L398.20 433.67 L398.70 433.14 L399.20 432.60 L399.70 432.04 L400.20 431.47 L400.70 430.88 L401.20 430.28 L401.70 429.67 L402.20 429.05 L402.70 428.41 L403.20 427.75 L403.70 427.08 L404.20 426.40 L404.70 425.70 L405.20 424.99 L405.70 424.27 L406.20 423.53 L406.70 422.77 L407.20 422.00 L407.70 421.21 L408.20 420.41 L408.70 419.60 L409.20 418.77 L409.70 417.92 L410.20 417.06 L410.70 416.18 L411.20 415.29 L411.70 414.39 L412.20 413.47 L412.70 412.53 L413.20 411.58 L413.70 410.62 L414.20 409.63 L414.70 408.64 L415.20 407.63 L415.70 406.61 L416.20 405.57 L416.70 404.52 L417.20 403.45 L417.70 402.37 L418.20 401.27 L418.70 400.17 L419.20 399.05 L419.70 397.91 L420.20 396.76 L420.70 395.60 L421.20 394.43 L421.70 393.25 L422.20 392.05 L422.70 390.85 L423.20 389.63 L423.70 388.40 L424.20 387.16 L424.70 385.91 L425.20 384.65 L425.70 383.38 L426.20 382.11 L426.70 380.82 L427.20 379.53 L427.70 378.22 L428.20 376.91 L428.70 375.60 L429.20 374.28 L429.70 372.95 L430.20 371.62 L430.70 370.28 L431.20 368.94 L431.70 367.60 L432.20 366.25 L432.70 364.90 L433.20 363.55 L433.70 362.19 L434.20 360.84 L434.70 359.49 L435.20 358.13 L435.70 356.78 L436.20 355.43 L436.70 354.08 L437.20 352.74 L437.70 351.40 L438.20 350.06 L438.70 348.73 L439.20 347.41 L439.70 346.09 L440.20 344.78 L440.70 343.48 L441.20 342.18 L441.70 340.90 L442.20 339.62 L442.70 338.36 L443.20 337.10 L443.70 335.86 L444.20 334.64 L444.70 333.42 L445.20 332.22 L445.70 331.04 L446.20 329.87 L446.70 328.72 L447.20 327.58 L447.70 326.46 L448.20 325.36 L448.70 324.28 L449.20 323.22 L449.70 322.18 L450.20 321.16 L450.70 320.17 L451.20 319.19 L451.70 318.24 L452.20 317.31 L452.70 316.40 L453.20 315.52 L453.70 314.67 L454.20 313.84 L454.70 313.04 L455.20 312.26 L455.70 311.51 L456.20 310.79 L456.70 310.10 L457.20 309.44 L457.70 308.81 L458.20 308.20 L458.70 307.63 L459.20 307.08 L459.70 306.57 L460.20 306.09 L460.70 305.64 L461.20 305.22 L461.70 304.83 L462.20 304.48 L462.70 304.16 L463.20 303.87 L463.70 303.61 L464.20 303.39 L464.70 303.20 L465.20 303.05 L465.70 302.92 L466.20 302.84 L466.70 302.78 L467.20 302.76 L467.70 302.77 L468.20 302.82 L468.70 302.91 L469.20 303.03 L469.70 303.18 L470.20 303.37 L470.70 303.59 L471.20 303.85 L471.70 304.15 L472.20 304.47 L472.70 304.84 L473.20 305.23 L473.70 305.66 L474.20 306.12 L474.70 306.62 L475.20 307.15 L475.70 307.71 L476.20 308.30 L476.70 308.92 L477.20 309.58 L477.70 310.26 L478.20 310.98 L478.70 311.72 L479.20 312.50 L479.70 313.30 L480.20 314.13 L480.70 314.99 L481.20 315.87 L481.70 316.78 L482.20 317.72 L482.70 318.68 L483.20 319.67 L483.70 320.67 L484.20 321.71 L484.70 322.76 L485.20 323.84 L485.70 324.93 L486.20 326.05 L486.70 327.19 L487.20 328.34 L487.70 329.52 L488.20 330.71 L488.70 331.92 L489.20 333.14 L489.70 334.38 L490.20 335.63 L490.70 336.90 L491.20 338.18 L491.70 339.47 L492.20 340.77 L492.70 342.08 L493.20 343.41 L493.70 344.74 L494.20 346.08 L494.70 347.43 L495.20 348.79 L495.70 350.15 L496.20 351.51 L496.70 352.88 L497.20 354.26 L497.70 355.64 L498.20 357.02 L498.70 358.40 L499.20 359.79 L499.70 361.17 L500.20 362.56 L500.70 363.94 L501.20 365.32 L501.70 366.70 L502.20 368.08 L502.70 369.46 L503.20 370.83 L503.70 372.19 L504.20 373.55 L504.70 374.91 L505.20 376.26 L505.70 377.60 L506.20 378.93 L506.70 380.26 L507.20 381.58 L507.70 382.89 L508.20 384.19 L508.70 385.48 L509.20 386.76 L509.70 388.03 L510.20 389.29 L510.70 390.54 L511.20 391.78 L511.70 393.01 L512.20 394.22 L512.70 395.42 L513.20 396.61 L513.70 397.78 L514.20 398.94 L514.70 400.09 L515.20 401.23 L515.70 402.35 L516.20 403.45 L516.70 404.54 L517.20 405.62 L517.70 406.68 L518.20 407.73 L518.70 408.76 L519.20 409.77 L519.70 410.77 L520.20 411.76 L520.70 412.73 L521.20 413.68 L521.70 414.62 L522.20 415.54 L522.70 416.45 L523.20 417.34 L523.70 418.21 L524.20 419.07 L524.70 419.92 L525.20 420.75 L525.70 421.56 L526.20 422.35 L526.70 423.14 L527.20 423.90 L527.70 424.65 L528.20 425.39 L528.70 426.11 L529.20 426.81 L529.70 427.50 L530.20 428.17 L530.70 428.83 L531.20 429.48 L531.70 430.11 L532.20 430.73 L532.70 431.33 L533.20 431.91 L533.70 432.49 L534.20 433.05 L534.70 433.59 L535.20 434.13 L535.70 434.65 L536.20 435.15 L536.70 435.65 L537.20 436.13 L537.70 436.60 L538.20 437.05 L538.70 437.50 L539.20 437.93 L539.70 438.35 L540.20 438.76 L540.70 439.16 L541.20 439.54 L541.70 439.92 L542.20 440.28 L542.70 440.64 L543.20 440.98 L543.70 441.32 L544.20 441.64 L544.70 441.95 L545.20 442.26 L545.70 442.55 L546.20 442.84 L546.70 443.12 L547.20 443.39 L547.70 443.65 L548.20 443.90 L548.70 444.14 L549.20 444.38 L549.70 444.61 L550.20 444.83 L550.70 445.04 L551.20 445.25 L551.70 445.45 L552.20 445.64 L552.70 445.83 L553.20 446.01 L553.70 446.18 L554.20 446.35 L554.70 446.51 L555.20 446.67 L555.70 446.82 L556.20 446.96 L556.70 447.10 L557.20 447.24 L557.70 447.37 L558.20 447.49 L558.70 447.61 L559.20 447.73 L559.70 447.84 L560.20 447.94 L560.70 448.05 L561.20 448.15 L561.70 448.24 L562.20 448.33 L562.70 448.42 L563.20 448.50 L563.70 448.58 L564.20 448.66 L564.70 448.74 L565.20 448.81 L565.70 448.88 L566.20 448.94 L566.70 449.01 L567.20 449.07 L567.70 449.12 L568.20 449.18 L568.70 449.23 L569.20 449.28 L569.70 449.33 L570.20 449.38 L570.70 449.42 L571.20 449.46 L571.70 449.51 L572.20 449.54 L572.70 449.58 L573.20 449.62 L573.70 449.65 L574.20 449.68 L574.70 449.71 L575.20 449.74 L575.70 449.77 L576.20 449.80 L576.70 449.82 L577.20 449.85 L577.70 449.87 L578.20 449.89 L578.70 449.91 L579.20 449.93 L579.70 449.95 L580.20 449.97 L580.70 449.99 L581.20 450.01 L581.70 450.02 L582.20 450.04 L582.70 450.05 L583.20 450.06 L583.70 450.08 L584.20 450.09 L584.70 450.10 L585.20 450.11 L585.70 450.12 L586.20 450.13 L586.70 450.14 L587.20 450.15 L587.70 450.16 L588.20 450.17 L588.70 450.17 L589.20 450.18 L589.70 450.19 L590.20 450.19 L590.70 450.20 L591.20 450.21 L591.70 450.21 L592.20 450.22 L592.70 450.22 L593.20 450.23 L593.70 450.23 L594.20 450.23 L594.70 450.24 L595.20 450.24 L595.70 450.25" fill="none" stroke="#2eaa5e" stroke-width="1.1" stroke-linejoin="round" stroke-linecap="round"/>
<path d="M334.50 449.67 L335.00 449.66 L335.50 449.65 L336.00 449.64 L336.50 449.63 L337.00 449.63 L337.50 449.62 L338.00 449.61 L338.50 449.59 L339.00 449.58 L339.50 449.57 L340.00 449.56 L340.50 449.55 L341.00 449.53 L341.50 449.52 L342.00 449.50 L342.50 449.49 L343.00 449.47 L343.50 449.45 L344.00 449.44 L344.50 449.42 L345.00 449.40 L345.50 449.38 L346.00 449.35 L346.50 449.33 L347.00 449.31 L347.50 449.28 L348.00 449.26 L348.50 449.23 L349.00 449.20 L349.50 449.17 L350.00 449.13 L350.50 449.10 L351.00 449.06 L351.50 449.03 L352.00 448.99 L352.50 448.95 L353.00 448.90 L353.50 448.86 L354.00 448.81 L354.50 448.76 L355.00 448.70 L355.50 448.65 L356.00 448.59 L356.50 448.53 L357.00 448.47 L357.50 448.40 L358.00 448.33 L358.50 448.25 L359.00 448.18 L359.50 448.10 L360.00 448.01 L360.50 447.92 L361.00 447.83 L361.50 447.73 L362.00 447.63 L362.50 447.53 L363.00 447.42 L363.50 447.31 L364.00 447.19 L364.50 447.06 L365.00 446.93 L365.50 446.80 L366.00 446.66 L366.50 446.52 L367.00 446.37 L367.50 446.21 L368.00 446.05 L368.50 445.88 L369.00 445.71 L369.50 445.54 L370.00 445.35 L370.50 445.17 L371.00 444.97 L371.50 444.77 L372.00 444.57 L372.50 444.36 L373.00 444.15 L373.50 443.93 L374.00 443.70 L374.50 443.47 L375.00 443.24 L375.50 443.00 L376.00 442.76 L376.50 442.51 L377.00 442.26 L377.50 442.00 L378.00 441.75 L378.50 441.49 L379.00 441.22 L379.50 440.95 L380.00 440.68 L380.50 440.41 L381.00 440.14 L381.50 439.86 L382.00 439.58 L382.50 439.30 L383.00 439.02 L383.50 438.74 L384.00 438.45 L384.50 438.16 L385.00 437.88 L385.50 437.59 L386.00 437.30 L386.50 437.00 L387.00 436.71 L387.50 436.41 L388.00 436.12 L388.50 435.82 L389.00 435.51 L389.50 435.21 L390.00 434.90 L390.50 434.59 L391.00 434.28 L391.50 433.96 L392.00 433.64 L392.50 433.31 L393.00 432.98 L393.50 432.64 L394.00 432.29 L394.50 431.94 L395.00 431.58 L395.50 431.21 L396.00 430.84 L396.50 430.45 L397.00 430.06 L397.50 429.65 L398.00 429.23 L398.50 428.81 L399.00 428.37 L399.50 427.91 L400.00 427.45 L400.50 426.97 L401.00 426.48 L401.50 425.97 L402.00 425.45 L402.50 424.91 L403.00 424.35 L403.50 423.78 L404.00 423.20 L404.50 422.59 L405.00 421.97 L405.50 421.33 L406.00 420.67 L406.50 420.00 L407.00 419.31 L407.50 418.59 L408.00 417.86 L408.50 417.11 L409.00 416.35 L409.50 415.56 L410.00 414.75 L410.50 413.93 L411.00 413.09 L411.50 412.22 L412.00 411.34 L412.50 410.44 L413.00 409.52 L413.50 408.59 L414.00 407.63 L414.50 406.66 L415.00 405.66 L415.50 404.66 L416.00 403.63 L416.50 402.58 L417.00 401.52 L417.50 400.44 L418.00 399.35 L418.50 398.23 L419.00 397.11 L419.50 395.96 L420.00 394.80 L420.50 393.63 L421.00 392.43 L421.50 391.23 L422.00 390.01 L422.50 388.78 L423.00 387.53 L423.50 386.27 L424.00 384.99 L424.50 383.71 L425.00 382.41 L425.50 381.10 L426.00 379.78 L426.50 378.44 L427.00 377.10 L427.50 375.75 L428.00 374.38 L428.50 373.01 L429.00 371.63 L429.50 370.24 L430.00 368.84 L430.50 367.44 L431.00 366.03 L431.50 364.61 L432.00 363.19 L432.50 361.76 L433.00 360.32 L433.50 358.89 L434.00 357.45 L434.50 356.00 L435.00 354.55 L435.50 353.11 L436.00 351.66 L436.50 350.21 L437.00 348.76 L437.50 347.31 L438.00 345.86 L438.50 344.41 L439.00 342.97 L439.50 341.52 L440.00 340.09 L441.00 338.65 L441.50 337.22 L442.00 335.80 L442.50 334.38 L443.00 332.98 L443.50 331.57 L444.00 330.18 L444.50 328.79 L445.00 327.42 L445.50 326.05 L446.00 324.70 L446.50 323.35 L447.00 322.02 L447.50 320.70 L448.00 319.40 L448.50 318.11 L449.00 316.83 L449.50 315.57 L450.00 314.33 L450.50 313.10 L451.00 311.89 L451.50 310.69 L452.00 309.52 L452.50 308.36 L453.00 307.23 L453.50 306.11 L454.00 305.02 L454.50 303.94 L455.00 302.89 L455.50 301.86 L456.00 300.85 L456.50 299.87 L457.00 298.91 L457.50 297.98 L458.00 297.07 L458.50 296.18 L459.00 295.32 L459.50 294.49 L460.00 293.69 L460.50 292.91 L461.00 292.16 L461.50 291.43 L462.00 290.74 L462.50 290.07 L463.00 289.44 L463.50 288.83 L464.00 288.25 L464.50 287.71 L465.00 287.19 L465.50 286.71 L466.00 286.25 L466.50 285.83 L467.00 285.44 L467.50 285.08 L468.00 284.75 L468.50 284.46 L469.00 284.20 L469.50 283.97 L470.00 283.78 L470.50 283.63 L471.00 283.51 L471.50 283.42 L472.00 283.37 L472.50 283.35 L473.00 283.38 L473.50 283.43 L474.00 283.53 L474.50 283.66 L475.00 283.82 L475.50 284.02 L476.00 284.26 L476.50 284.54 L477.00 284.85 L477.50 285.20 L478.00 285.58 L478.50 286.00 L479.00 286.46 L479.50 286.96 L480.00 287.49 L480.50 288.06 L481.00 288.66 L481.50 289.31 L482.00 289.98 L482.50 290.70 L483.00 291.44 L483.50 292.23 L484.00 293.04 L484.50 293.89 L485.00 294.78 L485.50 295.69 L486.00 296.64 L486.50 297.61 L487.00 298.62 L487.50 299.65 L488.00 300.72 L488.50 301.80 L489.00 302.91 L489.50 304.05 L490.00 305.21 L490.50 306.39 L491.00 307.60 L491.50 308.82 L492.00 310.06 L492.50 311.31 L493.00 312.58 L493.50 313.86 L494.00 315.14 L494.50 316.43 L495.00 317.73 L495.50 319.02 L496.00 320.32 L496.50 321.61 L497.00 322.91 L497.50 324.19 L498.00 325.48 L498.50 326.75 L499.00 328.02 L499.50 329.28 L500.00 330.54 L500.50 331.78 L501.00 333.02 L501.50 334.26 L502.00 335.49 L502.50 336.71 L503.00 337.93 L503.50 339.15 L504.00 340.38 L504.50 341.60 L505.00 342.83 L505.50 344.07 L506.00 345.31 L506.50 346.57 L507.00 347.84 L507.50 349.13 L508.00 350.43 L508.50 351.74 L509.00 353.08 L509.50 354.44 L510.00 355.81 L510.50 357.21 L511.00 358.62 L511.50 360.06 L512.00 361.51 L512.50 362.98 L513.00 364.46 L513.50 365.95 L514.00 367.46 L514.50 368.97 L515.00 370.49 L515.50 372.01 L516.00 373.53 L516.50 375.04 L517.00 376.55 L517.50 378.04 L518.00 379.52 L518.50 380.98 L519.00 382.43 L519.50 383.84 L520.00 385.24 L520.50 386.60 L521.00 387.94 L521.50 389.24 L522.00 390.52 L522.50 391.75 L523.00 392.96 L523.50 394.13 L524.00 395.27 L524.50 396.38 L525.00 397.45 L525.50 398.49 L526.00 399.51 L526.50 400.50 L527.00 401.46 L527.50 402.41 L528.00 403.33 L528.50 404.24 L529.00 405.13 L529.50 406.01 L530.00 406.88 L530.50 407.74 L531.00 408.60 L531.50 409.45 L532.00 410.30 L532.50 411.14 L533.00 411.98 L533.50 412.81 L534.00 413.64 L534.50 414.47 L535.00 415.29 L535.50 416.10 L536.00 416.91 L536.50 417.72 L537.00 418.52 L537.50 419.31 L538.00 420.10 L538.50 420.88 L539.00 421.65 L539.50 422.41 L540.00 423.17 L540.50 423.91 L541.00 424.65 L541.50 425.37 L542.00 426.08 L542.50 426.77 L543.00 427.46 L543.50 428.13 L544.00 428.79 L544.50 429.43 L545.00 430.06 L545.50 430.68 L546.00 431.28 L546.50 431.86 L547.00 432.43 L547.50 432.99 L548.00 433.53 L548.50 434.06 L549.00 434.57 L549.50 435.07 L550.00 435.55 L550.50 436.02 L551.00 436.48 L551.50 436.92 L552.00 437.35 L552.50 437.76 L553.00 438.17 L553.50 438.55 L554.00 438.93 L554.50 439.30 L555.00 439.65 L555.50 439.99 L556.00 440.32 L556.50 440.64 L557.00 440.95 L557.50 441.24 L558.00 441.53 L558.50 441.81 L559.00 442.07 L559.50 442.33 L560.00 442.58 L560.50 442.82 L561.00 443.05 L561.50 443.27 L562.00 443.48 L562.50 443.69 L563.00 443.89 L563.50 444.08 L564.00 444.26 L564.50 444.44 L565.00 444.61 L565.50 444.77 L566.00 444.93 L566.50 445.08 L567.00 445.23 L567.50 445.37 L568.00 445.51 L568.50 445.64 L569.00 445.76 L569.50 445.88 L570.00 446.00 L570.50 446.11 L571.00 446.22 L571.50 446.32 L572.00 446.42 L572.50 446.52 L573.00 446.61 L573.50 446.70 L574.00 446.79 L574.50 446.87 L575.00 446.95 L575.50 447.03 L576.00 447.10 L576.50 447.17 L577.00 447.24 L577.50 447.31 L578.00 447.37 L578.50 447.43 L579.00 447.49 L579.50 447.55 L580.00 447.61 L580.50 447.66 L581.00 447.71 L581.50 447.76 L582.00 447.81 L582.50 447.86 L583.00 447.90 L583.50 447.95 L584.00 447.99 L584.50 448.03 L585.00 448.07 L585.50 448.11 L586.00 448.15 L586.50 448.19 L587.00 448.22 L587.50 448.26 L588.00 448.29 L588.50 448.32 L589.00 448.35 L589.50 448.38 L590.00 448.41 L590.50 448.44 L591.00 448.47 L591.50 448.50 L592.00 448.52 L592.50 448.55 L593.00 448.57 L593.50 448.60 L594.00 448.62 L594.50 448.65 L595.00 448.67 L595.50 448.69 L596.00 448.71 L596.50 448.73" fill="none" stroke="#2b2b2b" stroke-width="1.1" stroke-linejoin="round" stroke-linecap="round"/>
<path d="M334.20 449.69 L334.70 449.68 L335.20 449.68 L335.70 449.67 L336.20 449.66 L336.70 449.65 L337.20 449.65 L337.70 449.64 L338.20 449.63 L338.70 449.62 L339.20 449.61 L339.70 449.61 L340.20 449.60 L340.70 449.59 L341.20 449.58 L341.70 449.57 L342.20 449.56 L342.70 449.54 L343.20 449.53 L343.70 449.52 L344.20 449.51 L344.70 449.49 L345.20 449.48 L345.70 449.47 L346.20 449.45 L346.70 449.44 L347.20 449.42 L347.70 449.40 L348.20 449.38 L348.70 449.36 L349.20 449.34 L349.70 449.32 L350.20 449.30 L350.70 449.28 L351.20 449.25 L351.70 449.23 L352.20 449.20 L352.70 449.17 L353.20 449.14 L353.70 449.11 L354.20 449.07 L354.70 449.04 L355.20 449.00 L355.70 448.96 L356.20 448.92 L356.70 448.88 L357.20 448.83 L357.70 448.78 L358.20 448.73 L358.70 448.67 L359.20 448.61 L359.70 448.55 L360.20 448.49 L360.70 448.42 L361.20 448.35 L361.70 448.27 L362.20 448.19 L362.70 448.11 L363.20 448.02 L363.70 447.93 L364.20 447.83 L364.70 447.73 L365.20 447.62 L365.70 447.51 L366.20 447.39 L366.70 447.27 L367.20 447.14 L367.70 447.01 L368.20 446.87 L368.70 446.73 L369.20 446.58 L369.70 446.42 L370.20 446.26 L370.70 446.09 L371.20 445.91 L371.70 445.73 L372.20 445.55 L372.70 445.36 L373.20 445.16 L373.70 444.96 L374.20 444.75 L374.70 444.53 L375.20 444.31 L375.70 444.09 L376.20 443.86 L376.70 443.62 L377.20 443.38 L377.70 443.14 L378.20 442.89 L378.70 442.64 L379.20 442.38 L379.70 442.12 L380.20 441.85 L380.70 441.59 L381.20 441.31 L381.70 441.04 L382.20 440.76 L382.70 440.48 L383.20 440.19 L383.70 439.91 L384.20 439.62 L384.70 439.32 L385.20 439.03 L385.70 438.73 L386.20 438.43 L386.70 438.12 L387.20 437.82 L387.70 437.51 L388.20 437.19 L388.70 436.88 L389.20 436.56 L389.70 436.23 L390.20 435.91 L390.70 435.57 L391.20 435.24 L391.70 434.89 L392.20 434.55 L392.70 434.19 L393.20 433.83 L393.70 433.46 L394.20 433.09 L394.70 432.71 L395.20 432.32 L395.70 431.92 L396.20 431.51 L396.70 431.09 L397.20 430.66 L397.70 430.22 L398.20 429.77 L398.70 429.31 L399.20 428.83 L399.70 428.34 L400.20 427.84 L400.70 427.32 L401.20 426.79 L401.70 426.25 L402.20 425.69 L402.70 425.11 L403.20 424.52 L403.70 423.91 L404.20 423.29 L404.70 422.65 L405.20 421.99 L405.70 421.32 L406.20 420.62 L406.70 419.91 L407.20 419.19 L407.70 418.44 L408.20 417.68 L408.70 416.89 L409.20 416.09 L409.70 415.28 L410.20 414.44 L410.70 413.59 L411.20 412.71 L411.70 411.82 L412.20 410.91 L412.70 409.99 L413.20 409.04 L413.70 408.08 L414.20 407.10 L414.70 406.10 L415.20 405.09 L415.70 404.06 L416.20 403.01 L416.70 401.94 L417.20 400.86 L417.70 399.77 L418.20 398.65 L418.70 397.52 L419.20 396.38 L419.70 395.22 L420.20 394.04 L420.70 392.85 L421.20 391.65 L421.70 390.43 L422.20 389.20 L422.70 387.96 L423.20 386.70 L423.70 385.43 L424.20 384.15 L424.70 382.85 L425.20 381.55 L425.70 380.23 L426.20 378.90 L426.70 377.56 L427.20 376.22 L427.70 374.86 L428.20 373.49 L428.70 372.12 L429.20 370.74 L429.70 369.34 L430.20 367.95 L430.70 366.54 L431.20 365.13 L431.70 363.72 L432.20 362.30 L432.70 360.87 L433.20 359.44 L433.70 358.01 L434.20 356.57 L434.70 355.13 L435.20 353.69 L435.70 352.25 L436.20 350.81 L436.70 349.37 L437.20 347.92 L437.70 346.48 L438.20 345.05 L438.70 343.61 L439.20 342.18 L439.70 340.75 L440.20 339.32 L440.70 337.90 L441.20 336.49 L441.70 335.08 L442.20 333.68 L442.70 332.28 L443.20 330.90 L443.70 329.52 L444.20 328.15 L444.70 326.79 L445.20 325.45 L445.70 324.11 L446.20 322.79 L446.70 321.48 L447.20 320.18 L447.70 318.90 L448.20 317.63 L448.70 316.38 L449.20 315.14 L449.70 313.92 L450.20 312.71 L450.70 311.53 L451.20 310.36 L451.70 309.21 L452.20 308.08 L452.70 306.97 L453.20 305.88 L453.70 304.81 L454.20 303.77 L454.70 302.74 L455.20 301.74 L455.70 300.77 L456.20 299.81 L456.70 298.88 L457.20 297.98 L457.70 297.10 L458.20 296.25 L458.70 295.42 L459.20 294.62 L459.70 293.85 L460.20 293.10 L460.70 292.38 L461.20 291.69 L461.70 291.03 L462.20 290.40 L462.70 289.79 L463.20 289.22 L463.70 288.68 L464.20 288.17 L464.70 287.68 L465.20 287.23 L465.70 286.81 L466.20 286.42 L466.70 286.06 L467.20 285.74 L467.70 285.45 L468.20 285.19 L468.70 284.96 L469.20 284.78 L469.70 284.62 L470.20 284.50 L470.70 284.41 L471.20 284.36 L471.70 284.35 L472.20 284.37 L472.70 284.43 L473.20 284.52 L473.70 284.65 L474.20 284.81 L474.70 285.01 L475.20 285.25 L475.70 285.53 L476.20 285.84 L476.70 286.18 L477.20 286.56 L477.70 286.98 L478.20 287.44 L478.70 287.93 L479.20 288.46 L479.70 289.03 L480.20 289.63 L480.70 290.27 L481.20 290.94 L481.70 291.65 L482.20 292.39 L482.70 293.17 L483.20 293.98 L483.70 294.83 L484.20 295.70 L484.70 296.61 L485.20 297.55 L485.70 298.52 L486.20 299.52 L486.70 300.55 L487.20 301.61 L487.70 302.69 L488.20 303.79 L488.70 304.92 L489.20 306.07 L489.70 307.25 L490.20 308.45 L490.70 309.66 L491.20 310.89 L491.70 312.14 L492.20 313.40 L492.70 314.67 L493.20 315.95 L493.70 317.23 L494.20 318.52 L494.70 319.81 L495.20 321.09 L495.70 322.38 L496.20 323.67 L496.70 324.95 L497.20 326.22 L497.70 327.49 L498.20 328.75 L498.70 330.00 L499.20 331.25 L499.70 332.49 L500.20 333.72 L500.70 334.95 L501.20 336.17 L501.70 337.39 L502.20 338.60 L502.70 339.82 L503.20 341.03 L503.70 342.25 L504.20 343.47 L504.70 344.70 L505.20 345.94 L505.70 347.19 L506.20 348.45 L506.70 349.73 L507.20 351.02 L507.70 352.33 L508.20 353.66 L508.70 355.01 L509.20 356.38 L509.70 357.76 L510.20 359.17 L510.70 360.60 L511.20 362.04 L511.70 363.50 L512.20 364.97 L512.70 366.46 L513.20 367.95 L513.70 369.46 L514.20 370.97 L514.70 372.48 L515.20 373.99 L515.70 375.49 L516.20 376.99 L516.70 378.47 L517.20 379.94 L517.70 381.40 L518.20 382.83 L518.70 384.24 L519.20 385.63 L519.70 386.98 L520.20 388.31 L520.70 389.61 L521.20 390.87 L521.70 392.10 L522.20 393.30 L522.70 394.47 L523.20 395.60 L523.70 396.70 L524.20 397.76 L524.70 398.80 L525.20 399.81 L525.70 400.80 L526.20 401.75 L526.70 402.69 L527.20 403.61 L527.70 404.51 L528.20 405.40 L528.70 406.27 L529.20 407.14 L529.70 407.99 L530.20 408.85 L530.70 409.69 L531.20 410.54 L531.70 411.38 L532.20 412.21 L532.70 413.04 L533.20 413.86 L533.70 414.68 L534.20 415.49 L534.70 416.30 L535.20 417.11 L535.70 417.91 L536.20 418.71 L536.70 419.50 L537.20 420.28 L537.70 421.05 L538.20 421.82 L538.70 422.58 L539.20 423.33 L539.70 424.07 L540.20 424.80 L540.70 425.52 L541.20 426.22 L541.70 426.91 L542.20 427.60 L542.70 428.26 L543.20 428.92 L543.70 429.56 L544.20 430.18 L544.70 430.79 L545.20 431.39 L545.70 431.97 L546.20 432.54 L546.70 433.09 L547.20 433.63 L547.70 434.15 L548.20 434.66 L548.70 435.16 L549.20 435.64 L549.70 436.11 L550.20 436.56 L550.70 437.00 L551.20 437.43 L551.70 437.84 L552.20 438.24 L552.70 438.62 L553.20 439.00 L553.70 439.36 L554.20 439.71 L554.70 440.05 L555.20 440.38 L555.70 440.70 L556.20 441.00 L556.70 441.30 L557.20 441.58 L557.70 441.86 L558.20 442.12 L558.70 442.38 L559.20 442.62 L559.70 442.86 L560.20 443.09 L560.70 443.31 L561.20 443.52 L561.70 443.73 L562.20 443.93 L562.70 444.12 L563.20 444.30 L563.70 444.47 L564.20 444.64 L564.70 444.81 L565.20 444.96 L565.70 445.11 L566.20 445.26 L566.70 445.40 L567.20 445.54 L567.70 445.66 L568.20 445.79 L568.70 445.91 L569.20 446.03 L569.70 446.14 L570.20 446.24 L570.70 446.35 L571.20 446.45 L571.70 446.54 L572.20 446.63 L572.70 446.72 L573.20 446.81 L573.70 446.89 L574.20 446.97 L574.70 447.05 L575.20 447.12 L575.70 447.19 L576.20 447.26 L576.70 447.33 L577.20 447.39 L577.70 447.45 L578.20 447.51 L578.70 447.57 L579.20 447.62 L579.70 447.68 L580.20 447.73 L580.70 447.78 L581.20 447.83 L581.70 447.87 L582.20 447.92 L582.70 447.96 L583.20 448.01 L583.70 448.05 L584.20 448.09 L584.70 448.12 L585.20 448.16 L585.70 448.20 L586.20 448.23 L586.70 448.27 L587.20 448.30 L587.70 448.33 L588.20 448.36 L588.70 448.39 L589.20 448.42 L589.70 448.45 L590.20 448.48 L590.70 448.51 L591.20 448.53 L591.70 448.56 L592.20 448.58 L592.70 448.61 L593.20 448.63 L593.70 448.66 L594.20 448.68 L594.70 448.70 L595.20 448.72 L595.70 448.74" fill="none" stroke="#e8262b" stroke-width="1.1" stroke-linejoin="round" stroke-linecap="round"/>
<path d="M382.20 470.4 L382.20 473.9 M435.72 470.4 L435.72 473.9 M489.24 470.4 L489.24 473.9 M542.76 470.4 L542.76 473.9 M596.28 470.4 L596.28 473.9" stroke="#555555" stroke-width="1" fill="none"/>
<path d="M355.44 470.4 L355.44 472.4 M408.96 470.4 L408.96 472.4 M462.48 470.4 L462.48 472.4 M516.00 470.4 L516.00 472.4 M569.52 470.4 L569.52 472.4" stroke="#555555" stroke-width="1" fill="none"/>
<text x="382.20" y="484.4" font-family='"Liberation Serif", serif' font-size="9.35" text-anchor="middle" font-weight="normal" fill="#222" stroke="#222" stroke-width="0.22" textLength="12.75" lengthAdjust="spacingAndGlyphs">528</text>
<text x="435.72" y="484.4" font-family='"Liberation Serif", serif' font-size="9.35" text-anchor="middle" font-weight="normal" fill="#222" stroke="#222" stroke-width="0.22" textLength="12.75" lengthAdjust="spacingAndGlyphs">530</text>
<text x="489.24" y="484.4" font-family='"Liberation Serif", serif' font-size="9.35" text-anchor="middle" font-weight="normal" fill="#222" stroke="#222" stroke-width="0.22" textLength="12.75" lengthAdjust="spacingAndGlyphs">532</text>
<text x="542.76" y="484.4" font-family='"Liberation Serif", serif' font-size="9.35" text-anchor="middle" font-weight="normal" fill="#222" stroke="#222" stroke-width="0.22" textLength="12.75" lengthAdjust="spacingAndGlyphs">534</text>
<text x="596.28" y="484.4" font-family='"Liberation Serif", serif' font-size="9.35" text-anchor="middle" font-weight="normal" fill="#222" stroke="#222" stroke-width="0.22" textLength="12.75" lengthAdjust="spacingAndGlyphs">536</text>
<text x="423" y="499.2" font-family='"Liberation Serif", serif' font-size="11.5" text-anchor="start" font-weight="normal" fill="#111" stroke="#111" stroke-width="0.22" textLength="84.7" lengthAdjust="spacingAndGlyphs">Binding energy(eV)</text>
<text transform="translate(322.6 361.5) rotate(-90)" x="0" y="0" font-family='"Liberation Serif", serif' font-size="10.8" text-anchor="middle" fill="#111" stroke="#111" stroke-width="0.22" textLength="59.6" lengthAdjust="spacingAndGlyphs">Intensity(a.u.)</text>
<text x="312.5" y="275.4" font-family='"Liberation Serif", serif' font-size="12.3" text-anchor="start" font-weight="normal" fill="#111" stroke="#111" stroke-width="0.22" textLength="13.8" lengthAdjust="spacingAndGlyphs">(d)</text>
<text x="553.5" y="288.9" font-family='"Liberation Serif", serif' font-size="11.2" text-anchor="start" font-weight="normal" fill="#111" stroke="#111" stroke-width="0.22" textLength="16.2" lengthAdjust="spacingAndGlyphs">Ols</text>
<path d="M32.4 520.4 L32.4 734.6 L299.1 734.6 L299.1 520.4 L32.4 520.4" fill="none" stroke="#555555" stroke-width="1.3"/>
<path d="M32.70 694.60 L33.80 695.60 L34.50 707.10 L35.30 711.30 L36.40 728.10 L37.20 709.20 L37.90 712.40 L39.00 732.30 L39.70 708.20 L40.60 706.10 L41.40 717.60 L42.10 706.10 L43.70 705.00 L44.80 699.80 L45.80 701.90 L46.80 706.10 L47.90 712.40 L48.90 696.60 L50.50 695.60 L51.60 701.90 L53.10 694.60 L54.20 692.50 L55.40 704.00 L56.50 710.30 L57.80 687.20 L58.60 686.20 L59.40 709.20 L60.50 704.00 L61.50 686.20 L62.60 672.60 L63.60 678.80 L65.20 675.70 L66.20 671.50 L67.80 693.50 L68.30 664.20 L69.00 692.50 L70.10 682.00 L72.00 682.00 L73.50 672.60 L74.60 669.40 L75.60 682.00 L77.20 664.20 L78.30 662.10 L79.80 687.20 L81.00 654.90 L82.10 663.30 L83.70 659.10 L84.70 665.40 L86.30 654.90 L87.30 650.70 L88.40 666.40 L89.90 647.10 L91.50 652.80 L92.60 663.30 L93.60 651.80 L94.70 657.00 L96.20 665.40 L97.30 650.70 L98.80 657.00 L100.40 652.80 L101.50 656.00 L103.00 634.00 L104.30 650.70 L105.70 639.20 L106.70 645.50 L108.30 631.90 L109.30 624.60 L110.60 658.10 L111.40 629.80 L113.00 618.30 L114.60 618.30 L116.10 608.80 L116.90 631.90 L118.20 616.20 L119.80 606.80 L120.80 602.60 L121.90 610.90 L122.90 618.30 L124.00 608.80 L125.20 612.00 L125.80 582.80 L126.50 578.60 L127.30 564.00 L127.90 554.60 L128.60 559.80 L129.40 547.20 L130.30 556.60 L131.50 557.70 L132.60 556.60 L133.40 565.00 L134.10 544.10 L134.70 535.70 L135.50 538.80 L136.20 545.10 L136.80 533.60 L137.60 528.90 L138.30 538.80 L138.80 544.10 L139.70 537.80 L140.90 540.90 L141.80 543.00 L142.50 556.60 L143.60 561.90 L145.10 558.70 L146.00 561.90 L146.70 578.60 L147.40 571.30 L148.50 581.80 L149.50 577.60 L150.60 586.00 L151.40 578.60 L152.50 582.80 L153.50 589.10 L154.70 570.50 L155.80 589.30 L156.80 600.80 L158.40 591.40 L159.90 588.30 L161.50 601.90 L162.60 613.40 L164.10 582.50 L165.20 608.20 L166.80 607.10 L167.80 595.60 L169.40 613.40 L170.40 592.50 L171.50 610.30 L172.80 597.70 L174.10 602.90 L175.70 599.80 L176.70 590.40 L178.10 601.90 L179.30 614.50 L180.40 589.30 L181.40 614.50 L182.50 593.50 L183.50 597.70 L184.60 592.50 L185.60 614.50 L186.60 597.70 L188.20 592.50 L189.60 599.80 L190.80 588.30 L192.40 583.00 L193.50 593.50 L195.00 578.80 L195.80 579.00 L197.10 572.70 L198.10 561.20 L199.70 548.60 L200.80 564.30 L201.50 579.00 L202.50 551.80 L203.90 563.30 L205.50 566.40 L206.50 562.20 L207.60 560.10 L208.40 547.60 L209.50 562.20 L210.50 555.90 L211.50 545.50 L212.60 564.30 L213.60 548.60 L214.90 546.50 L215.90 561.20 L217.00 580.00 L218.00 572.70 L219.30 562.20 L220.10 572.70 L221.40 581.10 L222.40 587.40 L223.50 576.90 L224.80 589.50 L225.60 597.80 L226.90 587.40 L228.30 580.00 L229.60 590.50 L231.10 581.10 L232.70 596.80 L234.30 601.00 L235.80 594.70 L236.90 587.40 L237.90 599.90 L239.50 612.50 L241.10 608.30 L242.30 624.50 L243.10 615.00 L244.20 600.40 L245.20 620.30 L246.30 616.10 L247.30 611.90 L248.40 623.40 L249.60 625.00 L250.50 611.90 L251.50 602.50 L252.60 609.80 L253.60 622.40 L254.50 628.60 L255.20 604.60 L255.90 594.60 L257.00 604.60 L257.80 616.10 L258.80 609.80 L259.70 603.50 L260.70 616.10 L261.50 610.80 L262.50 611.90 L263.60 614.00 L265.10 590.90 L266.20 601.40 L267.40 611.90 L268.50 606.60 L269.80 596.20 L270.90 604.60 L271.60 617.10 L272.70 619.20 L273.70 608.70 L274.80 617.10 L275.80 586.80 L276.60 620.30 L277.70 614.00 L279.00 603.50 L279.80 611.90 L280.60 595.10 L281.70 609.80 L282.40 619.20 L283.50 583.60 L284.50 593.00 L285.20 582.60 L286.10 606.60 L287.10 575.20 L288.20 590.90 L289.40 611.90 L290.50 584.70 L291.30 580.50 L292.40 590.90 L293.20 599.30 L294.20 580.50 L295.50 585.70 L296.50 582.60 L297.60 588.80 L298.60 599.30" fill="none" stroke="#606060" stroke-width="0.85" stroke-linejoin="round" stroke-linecap="round"/>
<path d="M32.40 719.80 C34.00 719.67 38.75 719.42 42.00 719.00 C45.25 718.58 48.58 717.92 51.90 717.30 C55.22 716.68 58.57 716.27 61.90 715.30 C65.23 714.33 68.58 712.83 71.90 711.50 C75.22 710.17 78.48 708.68 81.80 707.30 C85.12 705.92 88.47 704.72 91.80 703.20 C95.13 701.68 98.48 700.00 101.80 698.20 C105.12 696.40 108.67 694.45 111.70 692.40 C114.73 690.35 117.52 687.73 120.00 685.90 C122.48 684.07 124.38 683.53 126.60 681.40 C128.82 679.27 131.08 676.00 133.30 673.10 C135.52 670.20 137.68 666.77 139.90 664.00 C142.12 661.23 144.38 658.72 146.60 656.50 C148.82 654.28 150.72 652.50 153.20 650.70 C155.68 648.90 158.73 647.37 161.50 645.70 C164.27 644.03 167.30 642.37 169.80 640.70 C172.30 639.03 174.80 637.07 176.50 635.70 C178.20 634.33 178.53 634.35 180.00 632.50 C181.47 630.65 183.53 627.48 185.30 624.60 C187.07 621.72 189.05 618.32 190.60 615.20 C192.15 612.08 193.38 609.00 194.60 605.90 C195.82 602.80 196.83 600.92 197.90 596.60 C198.97 592.28 199.98 584.10 201.00 580.00 C202.02 575.90 203.08 573.97 204.00 572.00 C204.92 570.03 205.83 569.15 206.50 568.20 C207.17 567.25 207.55 566.70 208.00 566.30 C208.45 565.90 208.77 565.78 209.20 565.80 C209.63 565.82 209.98 565.83 210.60 566.40 C211.22 566.97 211.77 566.88 212.90 569.20 C214.03 571.52 215.73 576.58 217.40 580.30 C219.07 584.02 220.93 588.55 222.90 591.50 C224.87 594.45 227.27 596.03 229.20 598.00 C231.13 599.97 232.73 601.87 234.50 603.30 C236.27 604.73 237.82 605.72 239.80 606.60 C241.78 607.48 244.30 607.97 246.40 608.60 C248.50 609.23 251.40 610.10 252.40 610.40" fill="none" stroke="#45b055" stroke-width="0.9" stroke-linejoin="round" stroke-linecap="round"/>
<path d="M32.40 720.50 C34.00 720.37 38.75 720.12 42.00 719.70 C45.25 719.28 48.58 718.62 51.90 718.00 C55.22 717.38 58.57 716.97 61.90 716.00 C65.23 715.03 68.58 713.53 71.90 712.20 C75.22 710.87 78.48 709.38 81.80 708.00 C85.12 706.62 88.47 705.42 91.80 703.90 C95.13 702.38 98.48 700.70 101.80 698.90 C105.12 697.10 108.67 694.92 111.70 693.10 C114.73 691.28 117.52 689.67 120.00 688.00 C122.48 686.33 124.38 685.30 126.60 683.10 C128.82 680.90 131.08 677.58 133.30 674.80 C135.52 672.02 137.68 669.03 139.90 666.40 C142.12 663.77 144.38 661.07 146.60 659.00 C148.82 656.93 150.72 655.58 153.20 654.00 C155.68 652.42 158.73 650.75 161.50 649.50 C164.27 648.25 167.03 647.50 169.80 646.50 C172.57 645.50 175.30 644.72 178.10 643.50 C180.90 642.28 184.07 640.48 186.60 639.20 C189.13 637.92 191.08 637.13 193.30 635.80 C195.52 634.47 197.68 632.75 199.90 631.20 C202.12 629.65 204.38 627.93 206.60 626.50 C208.82 625.07 210.98 623.77 213.20 622.60 C215.42 621.43 217.68 620.40 219.90 619.50 C222.12 618.60 224.28 617.85 226.50 617.20 C228.72 616.55 230.98 615.97 233.20 615.60 C235.42 615.23 236.60 615.10 239.80 615.00 C243.00 614.90 250.30 615.00 252.40 615.00" fill="none" stroke="#4a5ee8" stroke-width="0.9" stroke-linejoin="round" stroke-linecap="round"/>
<path d="M32.40 713.20 C34.00 712.78 38.75 711.67 42.00 710.70 C45.25 709.73 48.87 708.63 51.90 707.40 C54.93 706.17 57.43 705.10 60.20 703.30 C62.97 701.50 65.72 699.10 68.50 696.60 C71.28 694.10 74.12 691.35 76.90 688.30 C79.68 685.25 82.43 682.17 85.20 678.30 C87.97 674.43 91.02 669.52 93.50 665.10 C95.98 660.68 98.47 655.42 100.10 651.80 C101.73 648.18 101.65 648.10 103.30 643.40 C104.95 638.70 107.78 629.92 110.00 623.60 C112.22 617.28 114.38 611.53 116.60 605.50 C118.82 599.47 121.22 592.90 123.30 587.40 C125.38 581.90 127.30 576.08 129.10 572.50 C130.90 568.92 132.45 567.32 134.10 565.90 C135.75 564.48 137.35 563.90 139.00 564.00 C140.65 564.10 142.20 564.97 144.00 566.50 C145.80 568.03 147.45 570.15 149.80 573.20 C152.15 576.25 155.32 580.58 158.10 584.80 C160.88 589.02 163.98 594.87 166.50 598.50 C169.02 602.13 170.95 604.25 173.20 606.60 C175.45 608.95 177.77 611.05 180.00 612.60 C182.23 614.15 184.38 615.13 186.60 615.90 C188.82 616.67 191.08 617.08 193.30 617.20 C195.52 617.32 197.68 617.03 199.90 616.60 C202.12 616.17 204.38 615.32 206.60 614.60 C208.82 613.88 210.98 613.03 213.20 612.30 C215.42 611.57 217.68 610.77 219.90 610.20 C222.12 609.63 224.28 609.22 226.50 608.90 C228.72 608.58 230.98 608.35 233.20 608.30 C235.42 608.25 236.60 608.37 239.80 608.60 C243.00 608.83 250.30 609.52 252.40 609.70" fill="none" stroke="#ff50f0" stroke-width="0.95" stroke-linejoin="round" stroke-linecap="round"/>
<path d="M32.40 712.80 C34.00 712.38 38.75 711.27 42.00 710.30 C45.25 709.33 48.87 708.23 51.90 707.00 C54.93 705.77 57.43 704.70 60.20 702.90 C62.97 701.10 65.72 698.70 68.50 696.20 C71.28 693.70 74.12 690.95 76.90 687.90 C79.68 684.85 82.43 681.77 85.20 677.90 C87.97 674.03 91.02 669.12 93.50 664.70 C95.98 660.28 98.47 655.02 100.10 651.40 C101.73 647.78 101.65 647.73 103.30 643.00 C104.95 638.27 107.78 629.38 110.00 623.00 C112.22 616.62 114.38 610.80 116.60 604.70 C118.82 598.60 121.22 591.93 123.30 586.40 C125.38 580.87 127.30 575.08 129.10 571.50 C130.90 567.92 132.45 566.42 134.10 564.90 C135.75 563.38 137.35 562.40 139.00 562.40 C140.65 562.40 142.20 563.38 144.00 564.90 C145.80 566.42 147.72 568.73 149.80 571.50 C151.88 574.27 154.28 578.45 156.50 581.50 C158.72 584.55 160.88 587.32 163.10 589.80 C165.32 592.28 167.82 594.57 169.80 596.40 C171.78 598.23 173.30 599.73 175.00 600.80 C176.70 601.87 178.28 602.83 180.00 602.80 C181.72 602.77 183.53 601.85 185.30 600.60 C187.07 599.35 189.15 597.07 190.60 595.30 C192.05 593.53 192.85 592.22 194.00 590.00 C195.15 587.78 196.33 585.33 197.50 582.00 C198.67 578.67 199.67 573.97 201.00 570.00 C202.33 566.03 204.43 560.73 205.50 558.20 C206.57 555.67 206.78 555.57 207.40 554.80 C208.02 554.03 208.60 553.65 209.20 553.60 C209.80 553.55 210.38 553.97 211.00 554.50 C211.62 555.03 211.83 554.63 212.90 556.80 C213.97 558.97 215.73 563.27 217.40 567.50 C219.07 571.73 220.93 578.37 222.90 582.20 C224.87 586.03 227.05 588.10 229.20 590.50 C231.35 592.90 233.58 594.80 235.80 596.60 C238.02 598.40 239.73 599.85 242.50 601.30 C245.27 602.75 250.75 604.63 252.40 605.30" fill="none" stroke="#ff3a3a" stroke-width="0.95" stroke-linejoin="round" stroke-linecap="round" stroke-opacity="0.72"/>
<path d="M47.30 734.6 L47.30 738.1 M83.20 734.6 L83.20 738.1 M119.10 734.6 L119.10 738.1 M155.00 734.6 L155.00 738.1 M190.90 734.6 L190.90 738.1 M226.80 734.6 L226.80 738.1 M262.70 734.6 L262.70 738.1 M298.60 734.6 L298.60 738.1" stroke="#555555" stroke-width="1" fill="none"/>
<path d="M65.25 734.6 L65.25 736.6 M101.15 734.6 L101.15 736.6 M137.05 734.6 L137.05 736.6 M172.95 734.6 L172.95 736.6 M208.85 734.6 L208.85 736.6 M244.75 734.6 L244.75 736.6 M280.65 734.6 L280.65 736.6" stroke="#555555" stroke-width="1" fill="none"/>
<text x="47.30" y="749.5" font-family='"Liberation Serif", serif' font-size="9.13" text-anchor="middle" font-weight="normal" fill="#222" stroke="#222" stroke-width="0.22" textLength="12.45" lengthAdjust="spacingAndGlyphs">565</text>
<text x="83.20" y="749.5" font-family='"Liberation Serif", serif' font-size="9.13" text-anchor="middle" font-weight="normal" fill="#222" stroke="#222" stroke-width="0.22" textLength="12.45" lengthAdjust="spacingAndGlyphs">570</text>
<text x="119.10" y="749.5" font-family='"Liberation Serif", serif' font-size="9.13" text-anchor="middle" font-weight="normal" fill="#222" stroke="#222" stroke-width="0.22" textLength="12.45" lengthAdjust="spacingAndGlyphs">575</text>
<text x="155.00" y="749.5" font-family='"Liberation Serif", serif' font-size="9.13" text-anchor="middle" font-weight="normal" fill="#222" stroke="#222" stroke-width="0.22" textLength="12.45" lengthAdjust="spacingAndGlyphs">580</text>
<text x="190.90" y="749.5" font-family='"Liberation Serif", serif' font-size="9.13" text-anchor="middle" font-weight="normal" fill="#222" stroke="#222" stroke-width="0.22" textLength="12.45" lengthAdjust="spacingAndGlyphs">585</text>
<text x="226.80" y="749.5" font-family='"Liberation Serif", serif' font-size="9.13" text-anchor="middle" font-weight="normal" fill="#222" stroke="#222" stroke-width="0.22" textLength="12.45" lengthAdjust="spacingAndGlyphs">590</text>
<text x="262.70" y="749.5" font-family='"Liberation Serif", serif' font-size="9.13" text-anchor="middle" font-weight="normal" fill="#222" stroke="#222" stroke-width="0.22" textLength="12.45" lengthAdjust="spacingAndGlyphs">595</text>
<text x="298.60" y="749.5" font-family='"Liberation Serif", serif' font-size="9.13" text-anchor="middle" font-weight="normal" fill="#222" stroke="#222" stroke-width="0.22" textLength="12.45" lengthAdjust="spacingAndGlyphs">600</text>
<text x="126" y="762.2" font-family='"Liberation Serif", serif' font-size="11.7" text-anchor="start" font-weight="normal" fill="#111" stroke="#111" stroke-width="0.22" textLength="81" lengthAdjust="spacingAndGlyphs">Binding energy(eV)</text>
<text transform="translate(21.0 624.8) rotate(-90)" x="0" y="0" font-family='"Liberation Serif", serif' font-size="11.4" text-anchor="middle" fill="#111" stroke="#111" stroke-width="0.22" textLength="63.6" lengthAdjust="spacingAndGlyphs">Intensity(a.u.)</text>
<text x="12" y="530.6" font-family='"Liberation Serif", serif' font-size="10.9" text-anchor="start" font-weight="normal" fill="#111" stroke="#111" stroke-width="0.4" textLength="11.3" lengthAdjust="spacingAndGlyphs">(e)</text>
<text x="254.9" y="545.3" font-family='"Liberation Serif", serif' font-size="10.8" text-anchor="start" font-weight="normal" fill="#111" stroke="#111" stroke-width="0.22" textLength="20.7" lengthAdjust="spacingAndGlyphs">Cr2p</text>
<path d="M333.4 522.3 L333.4 736.4 L591.8 736.4 L591.8 522.3 L333.4 522.3" fill="none" stroke="#555555" stroke-width="1.3"/>
<path d="M334.00 701.70 C335.17 701.75 338.83 701.52 341.00 702.00 C343.17 702.48 345.02 703.67 347.00 704.60 C348.98 705.53 350.92 706.70 352.90 707.60 C354.88 708.50 356.73 709.47 358.90 710.00 C361.07 710.53 363.57 710.87 365.90 710.80 C368.23 710.73 370.58 709.87 372.90 709.60 C375.22 709.33 377.65 709.70 379.80 709.20 C381.95 708.70 383.80 707.70 385.80 706.60 C387.80 705.50 389.97 704.25 391.80 702.60 C393.63 700.95 395.13 699.35 396.80 696.70 C398.47 694.05 400.30 690.20 401.80 686.70 C403.30 683.20 404.48 679.52 405.80 675.70 C407.12 671.88 408.22 668.12 409.70 663.80 C411.18 659.48 413.03 654.12 414.70 649.80 C416.37 645.48 418.03 641.88 419.70 637.90 C421.37 633.92 423.20 629.73 424.70 625.90 C426.20 622.07 427.62 618.35 428.70 614.90 C429.78 611.45 430.38 608.93 431.20 605.20 C432.02 601.47 432.73 597.32 433.60 592.50 C434.47 587.68 435.40 581.83 436.40 576.30 C437.40 570.77 438.52 564.53 439.60 559.30 C440.68 554.07 441.92 548.40 442.90 544.90 C443.88 541.40 444.73 539.65 445.50 538.30 C446.27 536.95 446.83 536.80 447.50 536.80 C448.17 536.80 448.73 536.85 449.50 538.30 C450.27 539.75 451.23 542.22 452.10 545.50 C452.97 548.78 453.83 553.08 454.70 558.00 C455.57 562.92 456.43 569.12 457.30 575.00 C458.17 580.88 459.13 587.63 459.90 593.30 C460.67 598.97 461.17 603.12 461.90 609.00 C462.63 614.88 463.32 622.23 464.30 628.60 C465.28 634.97 466.45 641.00 467.80 647.20 C469.15 653.40 470.65 660.37 472.40 665.80 C474.15 671.23 476.17 676.12 478.30 679.80 C480.43 683.48 482.68 685.85 485.20 687.90 C487.72 689.95 490.30 691.32 493.40 692.10 C496.50 692.88 500.12 692.22 503.80 692.60 C507.48 692.98 511.23 693.90 515.50 694.40 C519.77 694.90 525.53 695.60 529.40 695.60 C533.27 695.60 535.60 694.45 538.70 694.40 C541.80 694.35 544.90 695.33 548.00 695.30 C551.10 695.27 554.20 694.65 557.30 694.20 C560.40 693.75 563.50 693.15 566.60 692.60 C569.70 692.05 572.80 691.30 575.90 690.90 C579.00 690.50 582.60 690.43 585.20 690.20 C587.80 689.97 590.45 689.62 591.50 689.50" fill="none" stroke="#1c1c1c" stroke-width="1.15" stroke-linejoin="round" stroke-linecap="round"/>
<path d="M383.70 736.4 L383.70 739.9 M449.00 736.4 L449.00 739.9 M514.30 736.4 L514.30 739.9 M579.60 736.4 L579.60 739.9" stroke="#555555" stroke-width="1" fill="none"/>
<path d="M351.05 736.4 L351.05 738.4 M416.35 736.4 L416.35 738.4 M481.65 736.4 L481.65 738.4 M546.95 736.4 L546.95 738.4" stroke="#555555" stroke-width="1" fill="none"/>
<text x="383.70" y="750.3" font-family='"Liberation Sans", sans-serif' font-size="8.16" text-anchor="middle" font-weight="normal" fill="#222" stroke="#222" stroke-width="0.22" textLength="11.85" lengthAdjust="spacingAndGlyphs">280</text>
<text x="449.00" y="750.3" font-family='"Liberation Sans", sans-serif' font-size="8.16" text-anchor="middle" font-weight="normal" fill="#222" stroke="#222" stroke-width="0.22" textLength="11.85" lengthAdjust="spacingAndGlyphs">285</text>
<text x="514.30" y="750.3" font-family='"Liberation Sans", sans-serif' font-size="8.16" text-anchor="middle" font-weight="normal" fill="#222" stroke="#222" stroke-width="0.22" textLength="11.85" lengthAdjust="spacingAndGlyphs">290</text>
<text x="579.60" y="750.3" font-family='"Liberation Sans", sans-serif' font-size="8.16" text-anchor="middle" font-weight="normal" fill="#222" stroke="#222" stroke-width="0.22" textLength="11.85" lengthAdjust="spacingAndGlyphs">295</text>
<text x="419.5" y="761.7" font-family='"Liberation Serif", serif' font-size="11.5" text-anchor="start" font-weight="normal" fill="#111" stroke="#111" stroke-width="0.22" textLength="87.5" lengthAdjust="spacingAndGlyphs">Binding energy (eV)</text>
<text transform="translate(323.2 633.6) rotate(-90)" x="0" y="0" font-family='"Liberation Serif", serif' font-size="11.8" text-anchor="middle" fill="#111" stroke="#111" stroke-width="0.22" textLength="70.8" lengthAdjust="spacingAndGlyphs">Intensity (a.u.)</text>
<text x="319.3" y="534.3" font-family='"Liberation Sans", sans-serif' font-size="11.2" text-anchor="start" font-weight="normal" fill="#111" stroke="#111" stroke-width="0.22" textLength="10.7" lengthAdjust="spacingAndGlyphs">(f)</text>
<text x="557" y="551.0" font-family='"Liberation Serif", serif' font-size="11.5" text-anchor="start" font-weight="normal" fill="#111" stroke="#111" stroke-width="0.22" textLength="15.4" lengthAdjust="spacingAndGlyphs">Cls</text>
</svg>
</body></html>
